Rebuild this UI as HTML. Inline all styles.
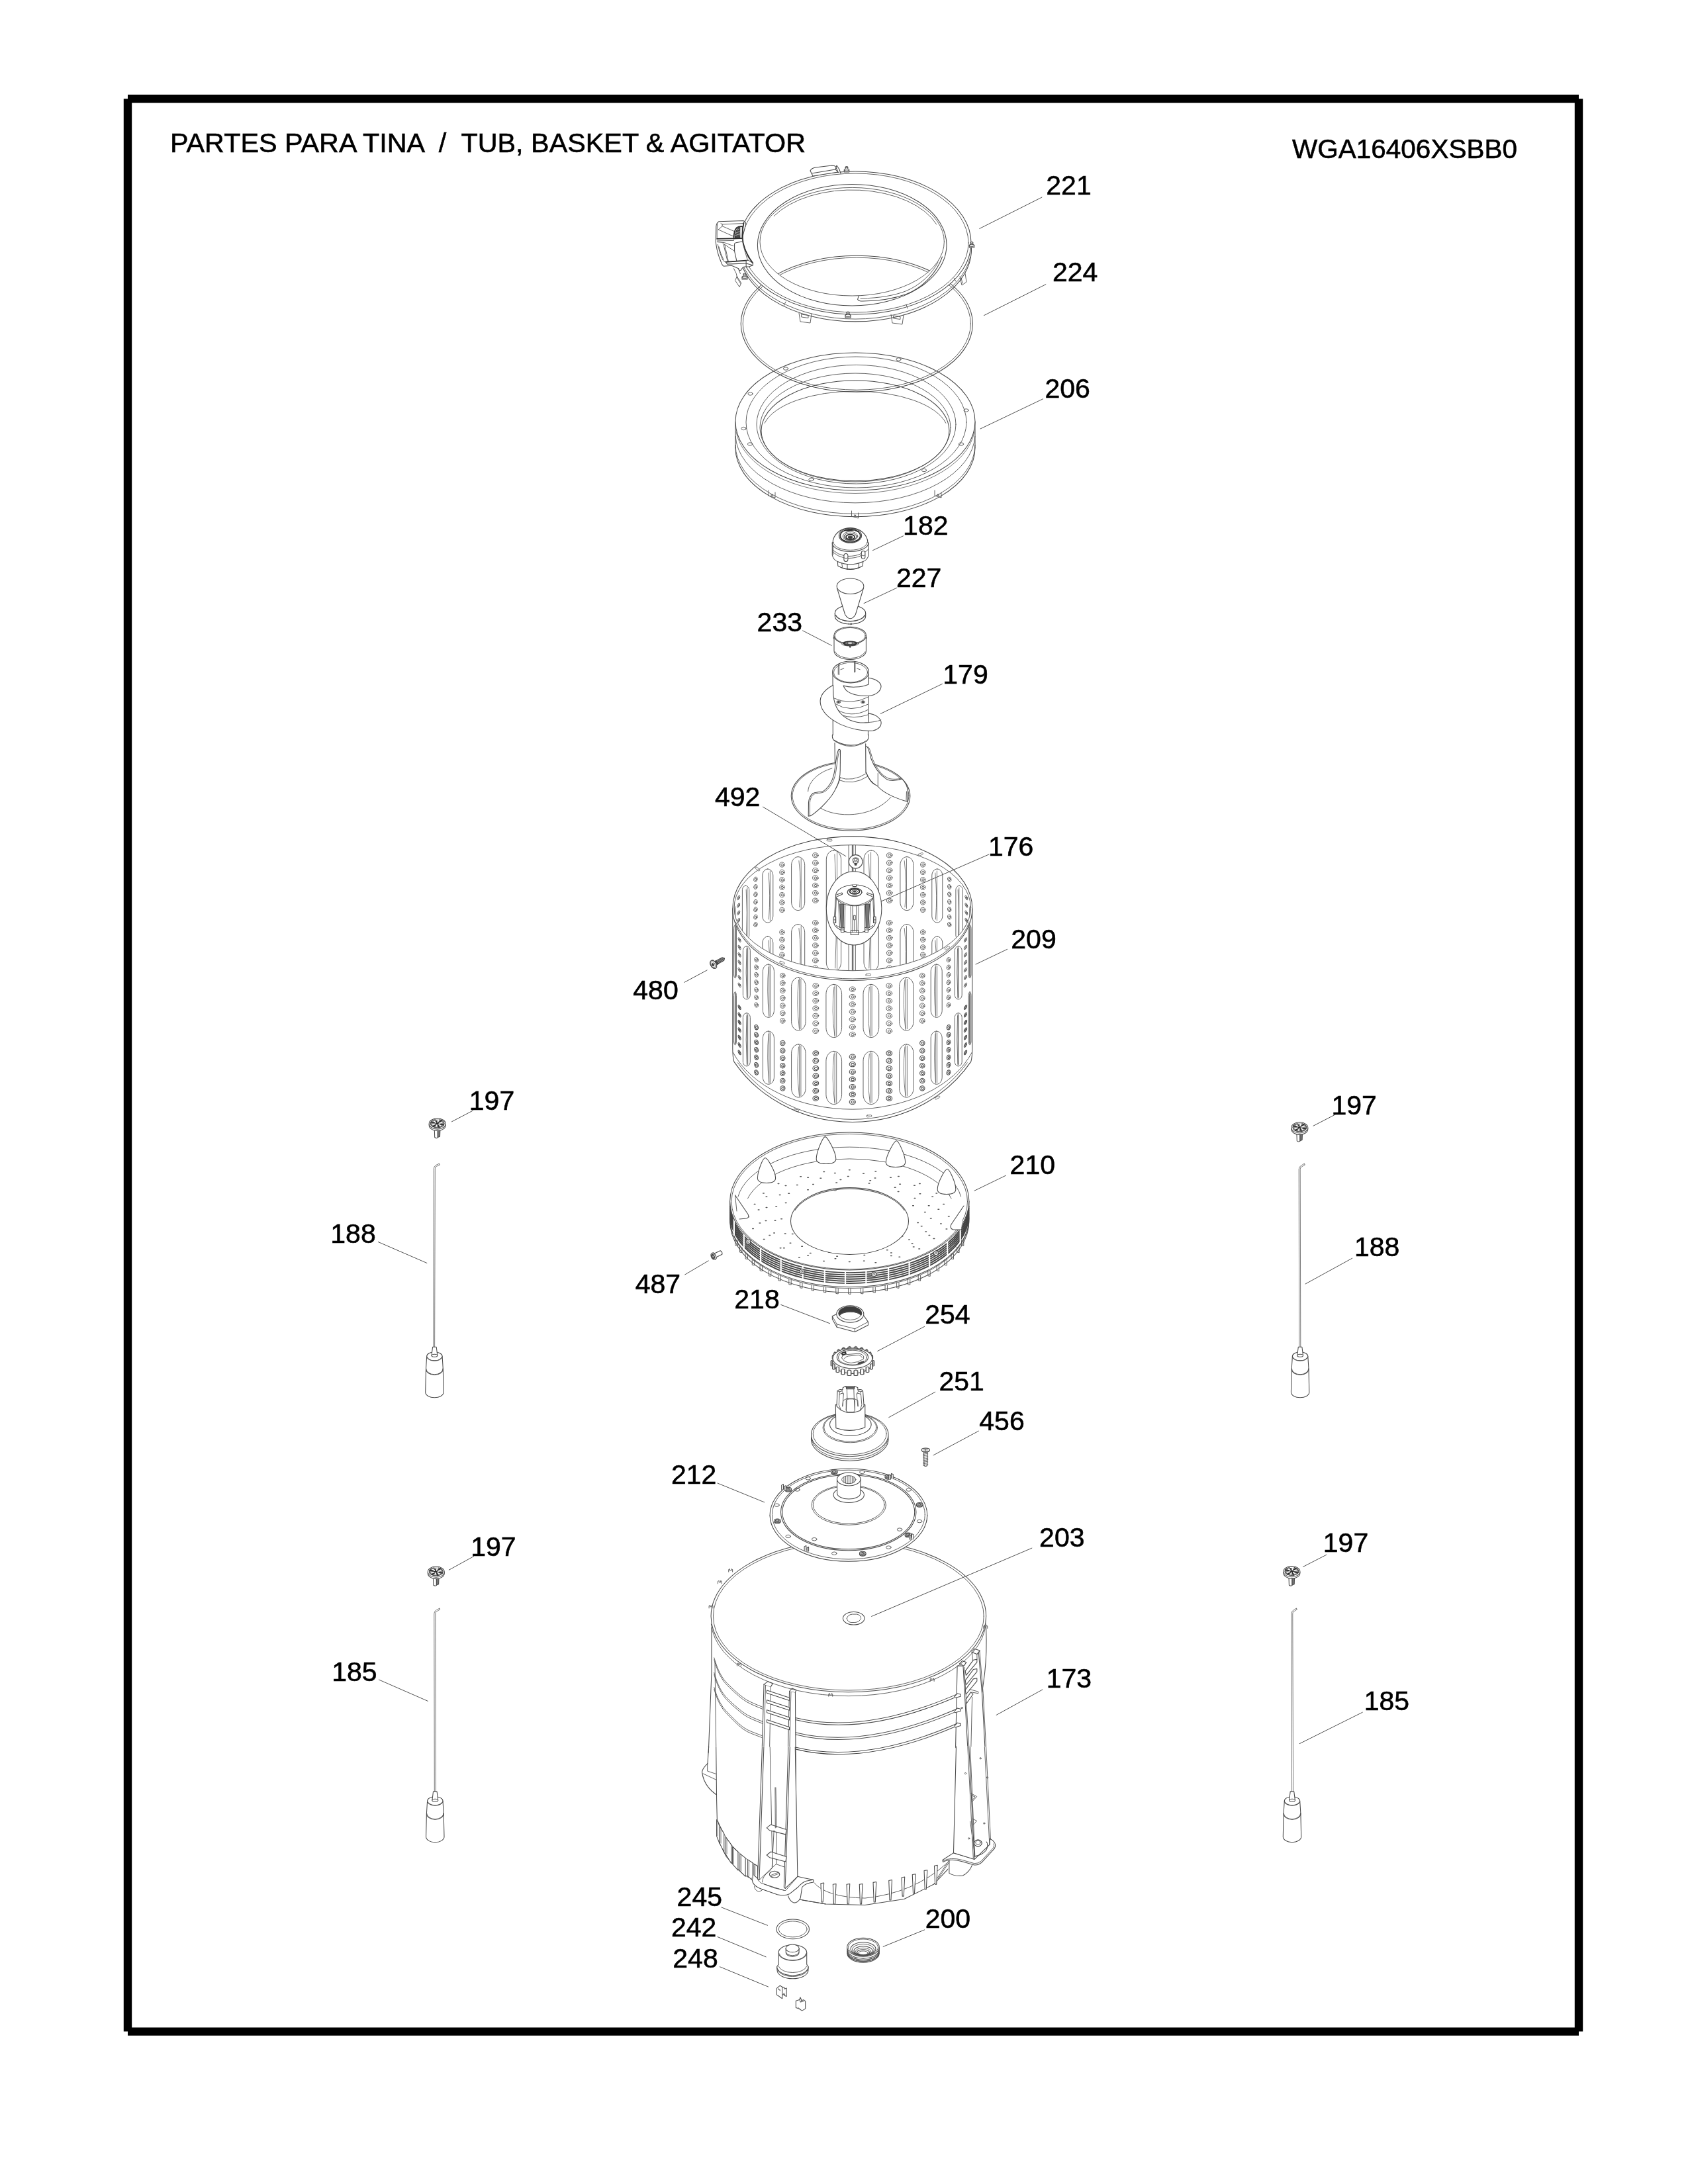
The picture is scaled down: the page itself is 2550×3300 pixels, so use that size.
<!DOCTYPE html>
<html><head><meta charset="utf-8"><title>Tub, Basket &amp; Agitator</title>
<style>
html,body{margin:0;padding:0;background:#fff;}
body{width:2550px;height:3300px;overflow:hidden;position:relative;font-family:"Liberation Sans",sans-serif;}
svg{position:absolute;left:0;top:0;will-change:transform;}
.t{font-family:"Liberation Sans",sans-serif;font-size:41px;fill:#000;stroke:#000;stroke-width:0.6px;}
.p,.p *{fill:none;stroke:#484848;stroke-width:1.05;stroke-linecap:round;stroke-linejoin:round;vector-effect:non-scaling-stroke;}
.p .w{fill:#fff;}
.p .wf{fill:#fff;stroke:none;}
.p .k{fill:#3c3c3c;}
.p .k2{fill:#777;}
.p .k4{fill:#8c8c8c;}
.p .wl2{stroke:#fff;stroke-width:1.5;}
.p .k3{fill:#4a4a4a;stroke:#333;}
.p .wl{stroke:#ddd;stroke-width:0.7;}
.p .gr{stroke-width:1.9;stroke:#444;}
.p .dv{stroke:#fff;stroke-width:2.2;}
.p .dt{stroke-width:1.5;stroke:#555;}
.p .n{stroke-width:0.9;stroke:#505050;}
.p .d{stroke-width:1.7;stroke:#2a2a2a;}
.p .h{stroke-width:0.8;stroke:#5a5a5a;}
.l line{stroke:#505050;stroke-width:1;}
</style></head><body>
<svg width="2550" height="3300" viewBox="0 0 2550 3300">
<!-- FRAME -->
<g stroke="#000" stroke-width="12.4" fill="none">
<line x1="193" y1="149.2" x2="2385" y2="149.2"/>
<line x1="193" y1="3069.6" x2="2385" y2="3069.6"/>
<line x1="193" y1="149.2" x2="193" y2="3069.6"/>
<line x1="2385" y1="149.2" x2="2385" y2="3069.6"/>
</g>
<!-- TITLES -->
<text class="t" x="257" y="229.5" xml:space="preserve" textLength="960" lengthAdjust="spacingAndGlyphs">PARTES PARA TINA  /  TUB, BASKET &amp; AGITATOR</text>
<text class="t" x="1952" y="239.3" textLength="340" lengthAdjust="spacingAndGlyphs">WGA16406XSBB0</text>
<!-- PARTS -->
<g class="p">
<!-- rods -->
<path d="M663.3 1758.3 L658.8 1760.4 Q655.3 1762.3 655.3 1765.9 L654.6 2037.5" class="h"/>
<path d="M664.1 1760.1 L659.8 1762.2 Q657.3 1762.3 657.3 1765.9 L656.6 2037.5" class="h"/>
<path d="M663.2 1758.3 q1.3 -0.3 0.9 1.9" class="h"/>
<path d="M644.7 2049.3 L643.5 2068.4 L642.7 2103.7 A13.7 8.1 0 0 0 670.1 2103.7 L669.3 2068.4 L668.1 2049.3" class="w"/>
<ellipse cx="656.4" cy="2049.3" rx="11.7" ry="6.5" class="w"/>
<path d="M667.2 2051.6 A11.2 6.2 0 0 1 645.6 2051.6" class="n"/>
<path d="M653.6 2035.2 L652 2048.3 L660.8 2048.3 L659.2 2035.2 Z" class="w"/>
<ellipse cx="656.4" cy="2048.3" rx="4.4" ry="2" class="w"/>
<path d="M669.3 2068.4 A12.9 9 0 0 1 643.5 2068.4"/>
<path d="M669.2 2067.8 A12.8 9 0 0 1 643.6 2067.8" class="n"/>
<path d="M1970.2 1758.3 L1965.7 1761.1 Q1962.2 1763 1962.2 1766.6 L1962.8 2038.5" class="h"/>
<path d="M1971 1760.1 L1966.7 1762.9 Q1964.2 1763 1964.2 1766.6 L1964.8 2038.5" class="h"/>
<path d="M1970.1 1758.3 q1.3 -0.3 0.9 1.9" class="h"/>
<path d="M1952.4 2049.3 L1951.2 2068.4 L1950.4 2103.7 A13.7 8.1 0 0 0 1977.8 2103.7 L1977 2068.4 L1975.8 2049.3" class="w"/>
<ellipse cx="1964.1" cy="2049.3" rx="11.7" ry="6.5" class="w"/>
<path d="M1974.9 2051.6 A11.2 6.2 0 0 1 1953.3 2051.6" class="n"/>
<path d="M1961.3 2035.2 L1959.7 2048.3 L1968.5 2048.3 L1966.9 2035.2 Z" class="w"/>
<ellipse cx="1964.1" cy="2048.3" rx="4.4" ry="2" class="w"/>
<path d="M1977 2068.4 A12.9 9 0 0 1 1951.2 2068.4"/>
<path d="M1976.9 2067.8 A12.8 9 0 0 1 1951.3 2067.8" class="n"/>
<path d="M663.8 2430.2 L659.3 2432.7 Q655.8 2434.6 655.8 2438.2 L656.3 2709.8" class="h"/>
<path d="M664.6 2432 L660.3 2434.5 Q657.8 2434.6 657.8 2438.2 L658.3 2709.8" class="h"/>
<path d="M663.7 2430.2 q1.3 -0.3 0.9 1.9" class="h"/>
<path d="M645.6 2721.2 L644.4 2740.3 L643.6 2775.6 A13.7 8.1 0 0 0 671 2775.6 L670.2 2740.3 L669 2721.2" class="w"/>
<ellipse cx="657.3" cy="2721.2" rx="11.7" ry="6.5" class="w"/>
<path d="M668.1 2723.5 A11.2 6.2 0 0 1 646.5 2723.5" class="n"/>
<path d="M654.5 2707.1 L652.9 2720.2 L661.7 2720.2 L660.1 2707.1 Z" class="w"/>
<ellipse cx="657.3" cy="2720.2" rx="4.4" ry="2" class="w"/>
<path d="M670.2 2740.3 A12.9 9 0 0 1 644.4 2740.3"/>
<path d="M670.1 2739.7 A12.8 9 0 0 1 644.5 2739.7" class="n"/>
<path d="M1958.3 2430.2 L1954.3 2432.7 Q1950.8 2434.6 1950.8 2438.2 L1951.6 2709.8" class="h"/>
<path d="M1959.1 2432 L1955.3 2434.5 Q1952.8 2434.6 1952.8 2438.2 L1953.6 2709.8" class="h"/>
<path d="M1958.2 2430.2 q1.3 -0.3 0.9 1.9" class="h"/>
<path d="M1940.3 2721.2 L1939.1 2740.3 L1938.3 2775.6 A13.7 8.1 0 0 0 1965.7 2775.6 L1964.9 2740.3 L1963.7 2721.2" class="w"/>
<ellipse cx="1952" cy="2721.2" rx="11.7" ry="6.5" class="w"/>
<path d="M1962.8 2723.5 A11.2 6.2 0 0 1 1941.2 2723.5" class="n"/>
<path d="M1949.2 2707.1 L1947.6 2720.2 L1956.4 2720.2 L1954.8 2707.1 Z" class="w"/>
<ellipse cx="1952" cy="2720.2" rx="4.4" ry="2" class="w"/>
<path d="M1964.9 2740.3 A12.9 9 0 0 1 1939.1 2740.3"/>
<path d="M1964.8 2739.7 A12.8 9 0 0 1 1939.2 2739.7" class="n"/>
<path d="M656.3 1706.1 L656.7 1718.5 Q659.1 1720.7 661.3 1718.9 L661.3 1707.6 Z" class="w"/>
<path d="M661.3 1707.6 L661.3 1718.5 L664.5 1717.3 L664.9 1706.1 Z" class="k2"/>
<path d="M648.2 1698.6 L648.2 1700.2 A12.5 8.3 0 0 0 673.2 1700.2 L673.2 1698.6" class="w"/>
<ellipse cx="660.7" cy="1698" rx="12.5" ry="8.1" class="w"/>
<ellipse cx="660.7" cy="1697.6" rx="10.4" ry="6.3" class="k4"/>
<path d="M670.1 1699.7 L651.3 1695.5 M663.3 1703.4 L658.1 1691.8 M654.3 1702.2 L667.1 1693" class="d"/>
<path d="M665.8 1701 L663 1699.1 M659.1 1702.1 L660 1699.6 M653.7 1699.3 L657.5 1698.3 M655.6 1694.2 L658.4 1696.1 M662.3 1693.1 L661.4 1695.6 M667.7 1695.9 L663.9 1696.9" class="wl2"/>
<path d="M658.2 1692 l5 0" class="wl2"/>
<path d="M1958.9 1712 L1959.3 1723.8 Q1961.7 1726 1963.9 1724.2 L1963.9 1713.5 Z" class="w"/>
<path d="M1963.9 1713.5 L1963.9 1723.8 L1967.1 1722.6 L1967.5 1712 Z" class="k2"/>
<path d="M1950.8 1704.5 L1950.8 1706.1 A12.5 8.3 0 0 0 1975.8 1706.1 L1975.8 1704.5" class="w"/>
<ellipse cx="1963.3" cy="1703.9" rx="12.5" ry="8.1" class="w"/>
<ellipse cx="1963.3" cy="1703.5" rx="10.4" ry="6.3" class="k4"/>
<path d="M1972.7 1705.6 L1953.9 1701.4 M1965.9 1709.3 L1960.7 1697.7 M1956.9 1708.1 L1969.7 1698.9" class="d"/>
<path d="M1968.4 1706.9 L1965.6 1705 M1961.7 1708 L1962.6 1705.5 M1956.3 1705.2 L1960.1 1704.2 M1958.2 1700.1 L1961 1702 M1964.9 1699 L1964 1701.5 M1970.3 1701.8 L1966.5 1702.8" class="wl2"/>
<path d="M1960.8 1697.9 l5 0" class="wl2"/>
<path d="M654.4 2383.2 L654.8 2395 Q657.2 2397.2 659.4 2395.4 L659.4 2384.7 Z" class="w"/>
<path d="M659.4 2384.7 L659.4 2395 L662.6 2393.8 L663 2383.2 Z" class="k2"/>
<path d="M646.3 2375.7 L646.3 2377.3 A12.5 8.3 0 0 0 671.3 2377.3 L671.3 2375.7" class="w"/>
<ellipse cx="658.8" cy="2375.1" rx="12.5" ry="8.1" class="w"/>
<ellipse cx="658.8" cy="2374.7" rx="10.4" ry="6.3" class="k4"/>
<path d="M668.2 2376.8 L649.4 2372.6 M661.4 2380.5 L656.2 2368.9 M652.4 2379.3 L665.2 2370.1" class="d"/>
<path d="M663.9 2378.1 L661.1 2376.2 M657.2 2379.2 L658.1 2376.7 M651.8 2376.4 L655.6 2375.4 M653.7 2371.3 L656.5 2373.2 M660.4 2370.2 L659.5 2372.7 M665.8 2373 L662 2374" class="wl2"/>
<path d="M656.3 2369.1 l5 0" class="wl2"/>
<path d="M1947 2382.7 L1947.4 2395 Q1949.8 2397.2 1952 2395.4 L1952 2384.2 Z" class="w"/>
<path d="M1952 2384.2 L1952 2395 L1955.2 2393.8 L1955.6 2382.7 Z" class="k2"/>
<path d="M1938.9 2375.2 L1938.9 2376.8 A12.5 8.3 0 0 0 1963.9 2376.8 L1963.9 2375.2" class="w"/>
<ellipse cx="1951.4" cy="2374.6" rx="12.5" ry="8.1" class="w"/>
<ellipse cx="1951.4" cy="2374.2" rx="10.4" ry="6.3" class="k4"/>
<path d="M1960.8 2376.3 L1942 2372.1 M1954 2380 L1948.8 2368.4 M1945 2378.8 L1957.8 2369.6" class="d"/>
<path d="M1956.5 2377.6 L1953.7 2375.7 M1949.8 2378.7 L1950.7 2376.2 M1944.4 2375.9 L1948.2 2374.9 M1946.3 2370.8 L1949.1 2372.7 M1953 2369.7 L1952.1 2372.2 M1958.4 2372.5 L1954.6 2373.5" class="wl2"/>
<path d="M1948.9 2368.6 l5 0" class="wl2"/>
<!-- 206 -->
<path d="M1473 676.8 A181 104 0 0 1 1111 676.8"/>
<path d="M1473 672.4 A181 104 0 0 1 1111 672.4" class="n"/>
<path d="M1472.9 659.3 A181 104 0 0 1 1111.1 659.3" class="n"/>
<path d="M1472 652.4 A181 104 0 0 1 1112 652.4" class="h"/>
<path d="M1111 637 L1111 676.8"/>
<path d="M1473 637 L1473 676.8"/>
<path d="M1111 637 A181 104 0 1 0 1473 637 A181 104 0 1 0 1111 637 Z M1150 650.8 A142 75.8 0 1 0 1434 650.8 A142 75.8 0 1 0 1150 650.8 Z" fill-rule="evenodd" class="wf"/>
<ellipse cx="1292" cy="637" rx="181" ry="104"/>
<ellipse cx="1293.5" cy="638" rx="166.5" ry="99" class="n"/>
<ellipse cx="1293.5" cy="641.2" rx="150.5" ry="89.8" class="n"/>
<ellipse cx="1292" cy="646" rx="144" ry="82" class="n"/>
<ellipse cx="1292" cy="650.8" rx="142" ry="75.8"/>
<path d="M1155.1 639.3 A140 61 0 0 1 1428.9 639.3" class="n"/>
<ellipse cx="1187" cy="557" rx="3.6" ry="2.2" class="n"/>
<ellipse cx="1357.5" cy="543" rx="3.6" ry="2.2" class="n"/>
<ellipse cx="1133.5" cy="595" rx="3.6" ry="2.2" class="n"/>
<ellipse cx="1123.5" cy="647.5" rx="3.6" ry="2.2" class="n"/>
<ellipse cx="1133" cy="671" rx="3.6" ry="2.2" class="n"/>
<ellipse cx="1459.5" cy="620" rx="3.6" ry="2.2" class="n"/>
<ellipse cx="1452" cy="671" rx="3.6" ry="2.2" class="n"/>
<ellipse cx="1396" cy="710.5" rx="3.6" ry="2.2" class="n"/>
<ellipse cx="1225.5" cy="724.5" rx="3.6" ry="2.2" class="n"/>
<path d="M1161 741 l0 8 l10 3 l0 -8 M1166 745" class="n"/>
<circle cx="1166" cy="748" r="1.2" class="n"/>
<path d="M1412 741 l0 8 l10 3 l0 -8 M1417 745" class="n"/>
<circle cx="1417" cy="748" r="1.2" class="n"/>
<path d="M1286.5 772 l0 8 l10 3 l0 -8 M1291.5 776" class="n"/>
<circle cx="1291.5" cy="779" r="1.2" class="n"/>
<!-- 224 -->
<ellipse cx="1294.3" cy="489.2" rx="175.1" ry="103"/>
<ellipse cx="1294.3" cy="489.2" rx="172.1" ry="100" class="n"/>
<!-- 221 -->
<path d="M1467.4 373.2 A175.5 109 0 1 1 1116.6 373.2"/>
<path d="M1465.8 388.2 A175.5 109 0 0 1 1118.2 388.2" class="n"/>
<path d="M1117 367 A175 108 0 1 0 1467 367 A175 108 0 1 0 1117 367 Z M1148 365.2 A139.2 81.8 0 1 0 1426.5 365.2 A139.2 81.8 0 1 0 1148 365.2 Z" fill-rule="evenodd" class="wf"/>
<ellipse cx="1292" cy="367" rx="175" ry="108"/>
<ellipse cx="1292" cy="367" rx="171" ry="105" class="n"/>
<ellipse cx="1287.2" cy="370.2" rx="142.8" ry="91.8"/>
<ellipse cx="1287.2" cy="365.2" rx="139.2" ry="81.8" class="n"/>
<path d="M1169.2 326.5 A136 79 0 0 1 1414.8 339" class="n"/>
<path d="M1297 447.3 L1295.6 452.6 Q1297 455 1300.5 454.9 C1330 455.2 1352 450.8 1369 444.6 C1395 434 1415 412 1423.5 388"/>
<path d="M1300 451 C1330 450.5 1352 446 1368 440 C1390 431 1408 414 1417 396" class="n"/>
<path d="M1184 462 L1187 456" class="n"/>
<path d="M1371 466 L1369 460" class="n"/>
<path d="M1441 420 L1444 425" class="n"/>
<path d="M1226 262 L1224 258 Q1226 254 1232 253 L1257 250 Q1262 250 1263 253 L1266 260 M1228 266 L1226 262 L1262 256 L1266 260 M1228 266 L1266 260 M1262 256 L1264 250 L1268 256 L1270 262" class="w"/>
<rect x="1277.1" y="252.4" width="3.7" height="5" rx="0.9" class="w"/>
<ellipse cx="1279" cy="252.4" rx="1.9" ry="1" class="w"/>
<path d="M1275.3 256.8 L1275.3 259.9 L1282.7 259.9 L1282.7 256.8 Z" class="w"/>
<ellipse cx="1279" cy="256.8" rx="3.7" ry="1.5" class="w"/>
<rect x="1466.1" y="366.4" width="3.7" height="5" rx="0.9" class="w"/>
<ellipse cx="1468" cy="366.4" rx="1.9" ry="1" class="w"/>
<path d="M1464.3 370.8 L1464.3 373.9 L1471.7 373.9 L1471.7 370.8 Z" class="w"/>
<ellipse cx="1468" cy="370.8" rx="3.7" ry="1.5" class="w"/>
<rect x="1123" y="414.1" width="4" height="5.3" rx="1" class="w"/>
<ellipse cx="1125" cy="414.1" rx="2" ry="1.1" class="w"/>
<path d="M1121 418.7 L1121 422 L1129 422 L1129 418.7 Z" class="w"/>
<ellipse cx="1125" cy="418.7" rx="4" ry="1.6" class="w"/>
<rect x="1279" y="472.1" width="4" height="5.3" rx="1" class="w"/>
<ellipse cx="1281" cy="472.1" rx="2" ry="1.1" class="w"/>
<path d="M1277 476.7 L1277 480 L1285 480 L1285 476.7 Z" class="w"/>
<ellipse cx="1281" cy="476.7" rx="4" ry="1.6" class="w"/>
<path d="M1207 473 l2 13 l15 2 l2 -14 M1211 475 l10 1.5 l0 4 l-10 -1.5 z" class="n"/>
<path d="M1346 475 l2 13 l15 2 l2 -14 M1350 477 l10 1.5 l0 4 l-10 -1.5 z" class="n"/>
<path d="M1450 418 l3 13 l7 -5 l-2 -13 M1452 420 l2 8" class="n"/>
<g transform="translate(1070 320) scale(0.05495)">
<path d="M290 270 L960 245 Q1020 262 1035 330 L975 560 L940 700 Q940 820 990 980 L1100 1250 L1225 1410 L1225 1470 L1120 1510 L1040 1510 Q940 1500 905 1600 L850 1620 L830 1560 L640 1480 L420 1495 Q385 1470 370 1430 L300 1250 Q240 1080 215 900 L205 830 L215 400 Q230 300 290 270 Z" class="w"/>
<path d="M345 320 L385 345 L960 320 M385 345 L385 395 L275 490 M385 395 L720 540 M275 490 L700 680 M250 330 Q235 420 240 745" class="n"/>
<path d="M700 740 Q700 520 780 440 Q830 400 935 405 L930 730 Z" class="w"/>
<path d="M700 740 Q700 520 780 440 Q830 400 935 405" class="d"/>
<path d="M735 730 Q735 560 800 470 Q830 440 870 430 L870 730 Z" class="k3"/>
<path d="M745 590 L860 540 M745 650 L865 610 M790 500 L850 470 M900 430 L870 640 M925 460 L900 700" class="wl"/>
<path d="M240 745 L930 730" class="d"/>
<path d="M245 830 L450 850 L690 940 M245 800 L700 790" class="n"/>
<path d="M975 300 Q930 520 940 700 Q945 850 1000 1000 Q1080 1220 1225 1410" class="d"/>
<path d="M930 740 Q950 900 1000 1060 L1080 1330" class="n"/>
<path d="M930 820 L760 850 Q720 855 720 890 L720 1080 L780 1355"/>
<path d="M400 880 L450 900 L550 1355 M420 905 L528 1360 M450 900 L715 1080 M260 900 Q300 1120 400 1330 Q430 1370 470 1380 M290 960 Q330 1150 420 1320" class="n"/>
<path d="M480 1380 L1040 1340" class="d"/>
<path d="M520 1440 L1030 1420 M480 1380 L520 1440 M1040 1340 L1040 1510 M1040 1340 L1100 1330 L1225 1410 M1040 1420 L1225 1470"/>
<path d="M700 1560 L770 1700 L790 1800 M830 1560 L880 1700 M740 1880 L790 1780 L905 1960 L860 2060 Z M790 1780 L800 1830 L890 1975" class="n"/>
</g>
<!-- small -->
<g transform="translate(1150 2890) scale(0.11848)">
<ellipse cx="403" cy="210" rx="208.5" ry="125"/>
<ellipse cx="403" cy="210" rx="180" ry="101" class="n"/>
<path d="M200 690 L204 745 A198 108 0 0 0 598 745 L600 690 Z" class="w"/>
<path d="M599 705 A199 109 0 0 1 201 705" class="n"/>
<path d="M222 510 L222 660 Q210 672 200 690 A200 110 0 0 0 600 690 Q590 672 580 660 L580 510 Z" class="w"/>
<path d="M580.2 681.4 A182 96 0 0 1 219.8 681.4" class="n"/>
<ellipse cx="400" cy="510" rx="180" ry="100" class="w"/>
<path d="M571.3 523.1 A172 93 0 0 1 228.7 523.1" class="n"/>
<path d="M313 455 L315 512 A83 46 0 0 0 481 512 L483 455 Z" class="w"/>
<path d="M480.7 504 A83 46 0 0 1 315.3 504" class="n"/>
<ellipse cx="398" cy="455" rx="85" ry="50" class="w"/>
<path d="M197 965 L240 930 L268 948 L268 1095 L240 1078 L225 1065 L197 1048 Z M268 948 L296 958 L296 972 L322 962 L322 1068 L296 1058 L296 1040 L268 1050" class="w"/>
<path d="M215 968 L240 985 M218 978 L243 995 M275 1040 L296 1030" class="n"/>
<path d="M442 1125 L488 1110 L498 1080 L515 1120 L540 1112 L563 1130 L563 1225 L520 1250 L490 1230 L470 1222 L442 1212 Z" class="w"/>
<path d="M488 1110 L500 1140 L515 1120 M500 1140 L540 1130 M470 1210 L490 1228" class="n"/>
<path d="M1097 450 L1100 520 A203 112 0 0 0 1503 520 L1505 450 Z" class="w"/>
<path d="M1503.9 473.9 A204 113 0 0 1 1096.1 473.9"/>
<path d="M1503.9 491.9 A204 113 0 0 1 1096.1 491.9"/>
<path d="M1503.9 509.9 A204 113 0 0 1 1096.1 509.9"/>
<path d="M1503 522 A203 112 0 0 1 1097 522"/>
<ellipse cx="1300" cy="440" rx="205" ry="118" class="w"/>
<ellipse cx="1300" cy="443" rx="190" ry="106" class="n"/>
<ellipse cx="1300" cy="462" rx="160" ry="84"/>
<ellipse cx="1300" cy="472" rx="140" ry="72" class="n"/>
<ellipse cx="1300" cy="486" rx="118" ry="58"/>
<ellipse cx="1300" cy="496" rx="98" ry="46" class="n"/>
<ellipse cx="1300" cy="506" rx="80" ry="36"/>
<ellipse cx="1300" cy="514" rx="60" ry="25" class="n"/>
</g>
<g transform="translate(1083.2 1454.2) rotate(-29)">
<path d="M-3.5 -3.4 L1 -2.8 L10.5 -2.6 L13 0 L10.5 2.6 L1 2.8 L-3.5 3.4 Z" class="k3"/>
<path d="M1.5 -2.6 L2.4 2.6" class="wl"/>
<path d="M3.7 -2.6 L4.6 2.6" class="wl"/>
<path d="M5.9 -2.6 L6.8 2.6" class="wl"/>
<path d="M8.1 -2.6 L9 2.6" class="wl"/>
<path d="M10.3 -2.6 L11.2 2.6" class="wl"/>
<ellipse cx="-6.3" cy="0" rx="4.2" ry="6.6" class="w"/>
<ellipse cx="-7" cy="0" rx="2.9" ry="4.8" class="n"/>
<ellipse cx="-7.2" cy="0" rx="1.3" ry="2.2" class="k"/>
<path d="M-6.3 -6.6 L-3.6 -5.8 Q-2.2 0 -3.6 5.8 L-6.3 6.6" class="w"/>
<ellipse cx="-6.3" cy="0" rx="4.2" ry="6.6" class="w"/>
<ellipse cx="-7" cy="0" rx="2.9" ry="4.8" class="n"/>
<ellipse cx="-7.2" cy="0" rx="1.3" ry="2.2" class="k"/>
</g>
<g transform="translate(1081.4 1896.5) rotate(-26)">
<path d="M-2 -3.1 L9 -3.1 Q11.4 0 9 3.1 L-2 3.1 Z" class="w"/>
<path d="M-4 -5.4 L-1.4 -4.8 Q-0.2 0 -1.4 4.8 L-4 5.4" class="w"/>
<ellipse cx="-4" cy="0" rx="3.4" ry="5.4" class="w"/>
<ellipse cx="-4.7" cy="0" rx="2.1" ry="3.6" class="k"/>
<ellipse cx="-4.7" cy="0.2" rx="0.8" ry="1.4" class="wl"/>
</g>
<!-- tub -->
<g transform="translate(1040 2320) scale(0.29621)">
<path d="M115 412 L118 700 L100 1165 L68 1200.3 L75 1240.3 L100 1290.3 L138 1320.3 L150 1480.3 L190 1550.3 L300 1670.3 L330 1760.3 L345 1795.3 L400 1810.3 L520 1860.3 L700 1880.3 L900 1885.3 L1100 1855.3 L1250 1780.3 L1335 1720.3 L1380 1735.3 L1440 1705.3 L1490 1670.3 L1560 1600.3 L1565 1570.3 L1535 1558.3 L1520 700 L1518 412 Z" class="wf"/>
<path d="M118 470 L118 700 L100 1165 L68 1200.3 L75 1240.3 L100 1290.3 L138 1320.3 L150 1480.3"/>
<path d="M100 1165 L128 1210.3 L138 1320.3 M75 1240.3 L128 1210.3" class="n"/>
<path d="M150 1480.3 L190 1550.3 L300 1670.3 L330 1760.3"/>
<path d="M140 1420.3 L180 1490.3 L290 1610.3 L340 1690.3" class="n"/>
<path d="M165 1440.3 l0 80 l10 8 l0 -78" class="n"/>
<path d="M190 1475.3 l0 80 l10 8 l0 -78" class="n"/>
<path d="M215 1505.3 l0 80 l10 8 l0 -78" class="n"/>
<path d="M240 1535.3 l0 80 l10 8 l0 -78" class="n"/>
<path d="M268 1562.3 l0 80 l10 8 l0 -78" class="n"/>
<path d="M295 1590.3 l0 80 l10 8 l0 -78" class="n"/>
<path d="M320 1620.3 l0 80 l10 8 l0 -78" class="n"/>
<path d="M131 624 C150 690 170 725 193.5 750 S250 805 277.5 826 S340 860 379 876" class="n"/>
<path d="M131 634 C150 700 170 735 193.5 760 S250 815 277.5 836 S340 870 379 886" class="n"/>
<path d="M131 700 C150 766 170 801 193.5 826 S250 880 277.5 901 S340 934 379 950" class="n"/>
<path d="M131 710 C150 776 170 811 193.5 836 S250 890 277.5 911 S340 944 379 960" class="n"/>
<path d="M131 775 C150 841 170 872 193.5 897 S250 956 277.5 977 S340 1007 379 1023" class="n"/>
<path d="M131 785 C150 851 170 882 193.5 907 S250 966 277.5 987 S340 1017 379 1033" class="n"/>
<path d="M135 645 L141 1085 L144 1440" class="n"/>
<path d="M1518 470 Q1523 600 1511 702 L1498 800"/>
<path d="M545 940 Q900 1030 1385 815 L1385 803 Q900 1018 545 930 Z" class="w"/>
<path d="M545 930 L535 944 L545 946 M1385 803 L1362 828" class="n"/>
<path d="M545 1015 Q900 1105 1385 890 L1385 878 Q900 1093 545 1005 Z" class="w"/>
<path d="M545 1005 L535 1019 L545 1021 M1385 878 L1362 903" class="n"/>
<path d="M545 1090 Q900 1180 1385 965 L1385 953 Q900 1168 545 1080 Z" class="w"/>
<path d="M545 1080 L535 1094 L545 1096 M1385 953 L1362 978" class="n"/>
<path d="M640 1770.3 Q700 1845.3 900 1850.3 Q1150 1825.3 1320 1670.3" class="n"/>
<path d="M520 1850.3 L700 1880.3 L900 1885.3 L1100 1855.3 L1250 1780.3 L1335 1690.3"/>
<path d="M675 1775.3 L691 1772.3 L686 1870.3 L679 1870.3 Z" class="w"/>
<path d="M737 1780.3 L753 1777.3 L748 1880.3 L741 1880.3 Z" class="w"/>
<path d="M807 1780.3 L823 1777.3 L818 1880.3 L811 1880.3 Z" class="w"/>
<path d="M872 1780.3 L888 1777.3 L883 1880.3 L876 1880.3 Z" class="w"/>
<path d="M942 1770.3 L958 1767.3 L953 1870.3 L946 1870.3 Z" class="w"/>
<path d="M1022 1760.3 L1038 1757.3 L1033 1860.3 L1026 1860.3 Z" class="w"/>
<path d="M1087 1745.3 L1103 1742.3 L1098 1840.3 L1091 1840.3 Z" class="w"/>
<path d="M1142 1730.3 L1158 1727.3 L1153 1825.3 L1146 1825.3 Z" class="w"/>
<path d="M1202 1710.3 L1218 1707.3 L1213 1805.3 L1206 1805.3 Z" class="w"/>
<path d="M1254 1685.3 L1270 1682.3 L1265 1780.3 L1258 1780.3 Z" class="w"/>
<path d="M330 1760.3 L345 1795.3 L400 1810.3 L500 1820.3 L570 1780.3 L640 1760.3"/>
<path d="M340 1780.3 L345 1805.3 L395 1815.3 M510 1825.3 L520 1860.3 L570 1850.3 L575 1780.3" class="n"/>
<ellipse cx="445" cy="1735.3" rx="35" ry="22" class="n"/>
<ellipse cx="445" cy="1732.3" rx="24" ry="14" class="n"/>
<path d="M330 1760.3 Q360 1720.3 400 1690.3 L490 1780.3" class="n"/>
<path d="M1300 1660.3 L1350 1625.3 L1440 1655.3 L1500 1640.3 L1560 1580.3 L1565 1568.3 L1545 1555.3"/>
<path d="M1330 1670.3 L1335 1720.3 L1380 1735.3 L1440 1705.3 L1445 1680.3 M1490 1670.3 L1560 1600.3" class="n"/>
<ellipse cx="1478" cy="1575.3" rx="30" ry="20" class="n"/>
<ellipse cx="1478" cy="1572.3" rx="19" ry="12" class="n"/>
<path d="M385 760 L370 1283 L355 1720.3 L400 1690.3" class="w"/>
<path d="M385 760 L420 772 L410 1283 L385 1680.3 M393.4 763 L379 1283" class="n"/>
<path d="M515 795 L508 1083 L490 1780.3 L555 1740.3 L548 1283 L545 800 Z" class="w"/>
<path d="M523 797 L516 1083" class="n"/>
<path d="M555 1740.3 L640 1760.3" class="n"/>
<path d="M440 1280.3 L440 1680.3 M446 1290.3 L446 1680.3" class="n"/>
<path d="M400 1480.3 L497 1515.3 L497 1525.3 L400 1490.3 Z" class="n"/>
<path d="M400 1600.3 L497 1635.3 L497 1645.3 L400 1610.3 Z" class="n"/>
<path d="M400 790 L515 828 L515 842 L400 804 Z" class="w"/>
<path d="M400 840 L515 878 L515 892 L400 854 Z" class="w"/>
<path d="M400 890 L515 928 L515 942 L400 904 Z" class="w"/>
<path d="M400 940 L515 978 L515 992 L400 954 Z" class="w"/>
<path d="M385 760 L405 745 L430 755 L420 772 M515 795 L528 780 L550 788 L545 800" class="w"/>
<path d="M1371 665.5 L1362.5 1083 L1424 1083 L1401 665.5 Z" class="wf"/>
<path d="M1362.5 1083 L1371 665.5 L1401 665.5 L1424 1083"/>
<path d="M1406.5 673 L1431 1083 M1447 825 L1441 1083" class="n"/>
<path d="M1479 588 L1497.4 806.5 L1512.3 1083"/>
<path d="M1485 590 L1503 806 L1518 1083" class="n"/>
<path d="M1412 691.5 L1452.8 635.8 L1471.4 632.1 L1471.4 647 L1415.7 713.8 Z" class="w"/>
<path d="M1412 739.7 L1452.8 684 L1471.4 680.3 L1471.4 695.2 L1415.7 762 Z" class="w"/>
<path d="M1412 787.9 L1452.8 732.2 L1471.4 728.5 L1471.4 743.4 L1415.7 810.2 Z" class="w"/>
<path d="M1415 836.1 L1440 799.6 L1452 809.6 L1418 857.6 Z" class="w"/>
<path d="M1434 785 L1478 797 L1478 806 L1445 800" class="n"/>
<path d="M1382.4 654.4 L1397.2 639.5 L1417.6 647 L1404.6 665.5 Z" class="w"/>
<path d="M1443.6 595 L1458.4 578.3 L1486.2 587.6 L1471.4 606.2 Z" class="w"/>
<path d="M1447 598 L1450 640 M1471.4 606.2 L1472 632" class="n"/>
<circle cx="1394.2" cy="880" r="4" class="n"/>
<circle cx="1489.2" cy="1136.7" r="4" class="n"/>
<circle cx="1412.8" cy="1213.5" r="4" class="n"/>
<path d="M1356 823 L1371 806.5 L1388 810 L1388 821 L1360 829" class="w"/>
<path d="M1356 898 L1371 881.5 L1388 885 L1388 896 L1360 904" class="w"/>
<path d="M1356 973 L1371 956.5 L1388 960 L1388 971 L1360 979" class="w"/>
<path d="M1517 452.3 A701.5 387.5 0 0 1 116 452.3" class="n"/>
<ellipse cx="816.5" cy="412" rx="701.5" ry="387.5" class="w"/>
<ellipse cx="816.5" cy="412" rx="690" ry="378" class="n"/>
<ellipse cx="843" cy="423" rx="55" ry="33"/>
<path d="M808 423 Q812 405 835 402 L860 402 Q880 408 880 423 Q872 442 850 444 L828 444 Q810 440 808 423 Z" class="n"/>
<path d="M248 666 l0 -12 l6 -3 l0 8 l8 0 l0 -8 l6 3 l0 12" class="n"/>
<path d="M715 821 l0 -12 l6 -3 l0 8 l8 0 l0 -8 l6 3 l0 12" class="n"/>
<path d="M1233 744 l0 -12 l6 -3 l0 8 l8 0 l0 -8 l6 3 l0 12" class="n"/>
<path d="M150 246 l0 -12 l6 -3 l0 8 l8 0 l0 -8 l6 3 l0 12" class="n"/>
<path d="M105 371 l0 -12 l6 -3 l0 8 l8 0 l0 -8 l6 3 l0 12" class="n"/>
<path d="M1505 474 l0 -12 l6 -3 l0 8 l8 0 l0 -8 l6 3 l0 12" class="n"/>
<path d="M205 186 l0 -12 l6 -3 l0 8 l8 0 l0 -8 l6 3 l0 12" class="n"/>
</g>
<g transform="translate(1050 2640) scale(0.12441)">
<path d="M255 -5 L60 150 L60 420 L230 640 L230 1250 L640 1700 L700 1800 L1150 1930 L1300 1900 L1300 1700 L1450 1650 L1450 1590 L1250 1560 L1218 130 L1175 130 L1172 -5 Z" class="wf"/>
<path d="M255 0 L262 640 L268 880"/>
<path d="M166 -5 L152 205"/>
<path d="M150 200 Q90 260 85 300 Q90 350 110 400 Q150 500 255 575"/>
<path d="M150 200 L150 290 L255 325 M95 320 L255 395" class="n"/>
<path d="M268 880 Q320 1010 400 1140 Q500 1260 600 1340 Q690 1405 765 1445" class="n"/>
<path d="M262 1000 Q300 1190 380 1330 Q470 1440 560 1520 Q640 1585 700 1600"/>
<path d="M262 880 L300 960 L300 1175 L262 1080 Z" class="w"/>
<path d="M276 905 L276 1077" class="h"/>
<path d="M300 960 L352 1050 L352 1275 L300 1170 Z" class="w"/>
<path d="M314 985 L314 1167" class="h"/>
<path d="M372 1090 L440 1185 L440 1410 L372 1300 Z" class="w"/>
<path d="M386 1115 L386 1297" class="h"/>
<path d="M455 1210 L522 1270 L522 1495 L455 1420 Z" class="w"/>
<path d="M469 1235 L469 1417" class="h"/>
<path d="M545 1295 L612 1345 L612 1570 L545 1505 Z" class="w"/>
<path d="M559 1320 L559 1502" class="h"/>
<path d="M640 1365 L700 1405 L700 1620 L640 1565 Z" class="w"/>
<path d="M654 1390 L654 1562" class="h"/>
<path d="M715 1420 L760 1445 L760 1595 L715 1555 Z" class="w"/>
<path d="M729 1445 L729 1552" class="h"/>
<path d="M690 1590 L700 1640 Q720 1690 800 1720 L1000 1790 Q1090 1810 1150 1780 L1250 1700 Q1300 1640 1350 1625 L1435 1610 L1440 1640 Q1340 1650 1300 1700 L1280 1830 Q1250 1890 1200 1890 Q1150 1870 1130 1805" class="w"/>
<path d="M720 1690 Q725 1740 770 1752 Q810 1750 822 1728" class="n"/>
<path d="M760 1610 L800 1650 L1080 1740 L1100 1740 L1240 1580" class="n"/>
<path d="M1275 1850 L1586 1905"/>
<path d="M815 1640 Q820 1560 900 1510 L940 1460 M1075 1735 Q960 1720 830 1660" class="n"/>
<ellipse cx="965" cy="1545" rx="62" ry="40" class="w"/>
<path d="M915 1558 L1010 1520 M925 1572 L1018 1535" class="n"/>
<path d="M815 0 L760 1600 L780 1612 L835 0" class="w"/>
<path d="M780 1612 L940 1460 L910 0" class="n"/>
<path d="M1132 0 L1080 1700 L1095 1716 L1152 0" class="w"/>
<path d="M1095 1716 L1245 1570 L1216 0" class="w"/>
<path d="M1245 1570 Q1320 1590 1435 1610"/>
<path d="M870 980 L920 940 L1110 1000 L1100 1060 L905 1010 Z" class="w"/>
<path d="M870 1310 L920 1270 L1110 1330 L1100 1390 L905 1340 Z" class="w"/>
<path d="M972 490 L975 980 M980 490 L990 975 M958 1010 L935 1450 M990 1040 L985 1290 M990 1360 L985 1420 L940 1460 M985 1420 L1085 1455" class="n"/>
</g>
<g transform="translate(1330 2640) scale(0.12441)">
<path d="M915 -5 L880 1285 L735 1368 L740 1412 L822 1400 L822 1562 L1000 1592 L1125 1462 L1250 1425 L1412 1245 L1412 1150 L1345 1095 L1295 -5 Z" class="wf"/>
<path d="M835 1375 L835 1530 Q900 1570 1000 1560 Q1080 1520 1115 1430" class="w"/>
<path d="M830 1380 L690 1590 M838 1392 L700 1598" class="n"/>
<path d="M885 1285 L755 1370 L760 1395 Q850 1345 1000 1390 L1140 1430 Q1190 1435 1230 1400 L1385 1230 Q1400 1200 1395 1180 Q1385 1140 1330 1110 L1325 1185 L1145 1360 Z" class="w"/>
<path d="M765 1380 Q850 1330 1000 1372 L1140 1412 Q1185 1415 1222 1385 L1372 1222 Q1385 1195 1378 1172" class="n"/>
<path d="M1145 1325 Q1240 1310 1285 1250 Q1315 1190 1290 1150" class="n"/>
<ellipse cx="1185" cy="1165" rx="46" ry="40" class="n"/>
<ellipse cx="1185" cy="1158" rx="30" ry="24" class="n"/>
<path d="M920 -8 L888 1285 L1142 1362 L1075 -8 Z" class="wf"/>
<path d="M920 -8 L888 1285 L1142 1362 L1075 -8"/>
<path d="M1090 0 L1148 1330 M1325 1185 L1265 0 M1283 0 L1338 1120" class="n"/>
<path d="M1060 0 L1128 1350" class="n"/>
<path d="M1145 1325 Q1240 1310 1285 1250 Q1315 1190 1290 1150" class="n"/>
<ellipse cx="1185" cy="1165" rx="46" ry="40" class="w"/>
<ellipse cx="1185" cy="1158" rx="30" ry="24" class="n"/>
<path d="M1090 900 L1148 1330" class="n"/>
<path d="M1100 560 L1170 600 L1115 660 M1108 585 L1150 604 L1118 640 M1120 870 L1170 895 L1130 940" class="n"/>
<circle cx="1215" cy="135" r="9" class="n"/>
<circle cx="1033" cy="318" r="9" class="n"/>
<circle cx="1298" cy="368" r="9" class="n"/>
<circle cx="1260" cy="925" r="9" class="n"/>
<circle cx="1075" cy="1108" r="9" class="n"/>
</g>
<!-- 212 -->
<g transform="translate(1140 2190) scale(0.17180)">
<path d="M135 578 L137 600 A691 407 0 0 0 1516 600 L1518 578" class="w"/>
<ellipse cx="826" cy="578" rx="691.5" ry="407.5" class="w"/>
<ellipse cx="826" cy="574" rx="672" ry="392" class="n"/>
<ellipse cx="825" cy="552" rx="595" ry="337"/>
<ellipse cx="825" cy="552" rx="582" ry="326"/>
<ellipse cx="828" cy="490" rx="327" ry="175" class="n"/>
<ellipse cx="828" cy="488" rx="314" ry="165" class="n"/>
<ellipse cx="828" cy="400" rx="135" ry="68" class="w"/>
<path d="M724.5 262 L726 385 A102 52 0 0 0 930 385 L931.5 262 Z" class="w"/>
<ellipse cx="828" cy="262" rx="103.5" ry="58" class="w"/>
<ellipse cx="828" cy="266" rx="62" ry="35" class="n"/>
<path d="M785 245 L785 290 M800 238 L800 297 M815 234 L815 300 M830 233 L830 301 M845 234 L845 300 M860 238 L860 297 M873 245 L873 290" class="n"/>
<ellipse cx="470" cy="255" rx="22" ry="13" class="n"/>
<ellipse cx="945" cy="200" rx="22" ry="13" class="n"/>
<ellipse cx="375" cy="355" rx="22" ry="13" class="n"/>
<ellipse cx="1355" cy="355" rx="22" ry="13" class="n"/>
<ellipse cx="195" cy="490" rx="22" ry="13" class="n"/>
<ellipse cx="1450" cy="632" rx="22" ry="13" class="n"/>
<ellipse cx="1275" cy="705" rx="22" ry="13" class="n"/>
<ellipse cx="295" cy="765" rx="22" ry="13" class="n"/>
<ellipse cx="525" cy="790" rx="22" ry="13" class="n"/>
<ellipse cx="700" cy="915" rx="22" ry="13" class="n"/>
<ellipse cx="1178" cy="862" rx="22" ry="13" class="n"/>
<ellipse cx="700" cy="201" rx="28" ry="17" class="w"/>
<ellipse cx="700" cy="195" rx="28" ry="17" class="w"/>
<ellipse cx="700" cy="195" rx="17" ry="10"/>
<ellipse cx="700" cy="195" rx="9" ry="5" class="n"/>
<ellipse cx="295" cy="356" rx="28" ry="17" class="w"/>
<ellipse cx="295" cy="350" rx="28" ry="17" class="w"/>
<ellipse cx="295" cy="350" rx="17" ry="10"/>
<ellipse cx="295" cy="350" rx="9" ry="5" class="n"/>
<ellipse cx="1450" cy="491" rx="28" ry="17" class="w"/>
<ellipse cx="1450" cy="485" rx="28" ry="17" class="w"/>
<ellipse cx="1450" cy="485" rx="17" ry="10"/>
<ellipse cx="1450" cy="485" rx="9" ry="5" class="n"/>
<ellipse cx="200" cy="634" rx="28" ry="17" class="w"/>
<ellipse cx="200" cy="628" rx="28" ry="17" class="w"/>
<ellipse cx="200" cy="628" rx="17" ry="10"/>
<ellipse cx="200" cy="628" rx="9" ry="5" class="n"/>
<ellipse cx="950" cy="921" rx="28" ry="17" class="w"/>
<ellipse cx="950" cy="915" rx="28" ry="17" class="w"/>
<ellipse cx="950" cy="915" rx="17" ry="10"/>
<ellipse cx="950" cy="915" rx="9" ry="5" class="n"/>
<ellipse cx="1350" cy="756" rx="28" ry="17" class="w"/>
<ellipse cx="1350" cy="750" rx="28" ry="17" class="w"/>
<ellipse cx="1350" cy="750" rx="17" ry="10"/>
<ellipse cx="1350" cy="750" rx="9" ry="5" class="n"/>
<ellipse cx="1175" cy="246" rx="28" ry="17" class="w"/>
<ellipse cx="1175" cy="240" rx="28" ry="17" class="w"/>
<ellipse cx="1175" cy="240" rx="17" ry="10"/>
<ellipse cx="1175" cy="240" rx="9" ry="5" class="n"/>
<path d="M237 355 l0 -40 l16 -8 l0 40 M261 360 l0 -36 l14 -6 l0 38" class="w"/>
<path d="M1218 260 l0 -40 l-16 -8 l0 40 M1194 265 l0 -36 l-14 -6 l0 38" class="w"/>
<path d="M437 895 l0 -40 l16 -8 l0 40 M461 900 l0 -36 l14 -6 l0 38" class="w"/>
<path d="M1398 790 l0 -40 l-16 -8 l0 40 M1374 795 l0 -36 l-14 -6 l0 38" class="w"/>
</g>
<path d="M1395.6 2194 L1396 2214.5 Q1398.3 2216.5 1400.6 2214.5 L1401 2194 Z" class="w"/>
<path d="M1394.8 2197.4 L1401.8 2196" class="n"/>
<path d="M1394.8 2199.8 L1401.8 2198.4" class="n"/>
<path d="M1394.8 2202.2 L1401.8 2200.8" class="n"/>
<path d="M1394.8 2204.6 L1401.8 2203.2" class="n"/>
<path d="M1394.8 2207 L1401.8 2205.6" class="n"/>
<path d="M1394.8 2209.4 L1401.8 2208" class="n"/>
<path d="M1394.8 2211.8 L1401.8 2210.4" class="n"/>
<path d="M1394.8 2214.2 L1401.8 2212.8" class="n"/>
<path d="M1392.3 2191 Q1392.5 2194 1398.3 2194.6 Q1404.2 2194 1404.4 2191" class="w"/>
<ellipse cx="1398.3" cy="2190.8" rx="6.1" ry="2.7" class="w"/>
<path d="M1395.5 2190.8 L1401.2 2190.8 M1398.3 2189.6 L1398.3 2192" class="n"/>
<!-- 218/254/251 -->
<g transform="translate(1220 1960) scale(0.10989)">
<path d="M340 262 L340 302 L402 412 L650 478 L832 385 L832 340 L770 250 L470 195 Z" class="w"/>
<path d="M340 262 L402 372 L650 435 L832 340 M402 372 L402 412 M650 435 L650 478" class="n"/>
<ellipse cx="585" cy="232" rx="187" ry="116" class="w"/>
<ellipse cx="585" cy="222" rx="158" ry="92" class="n"/>
<path d="M427 222 A158 92 0 0 1 743 222 A158 80 0 0 1 735 250 A150 62 0 0 0 440 255 A158 80 0 0 1 427 222 Z" class="k"/>
<path d="M437.3 251.2 A150 62 0 0 1 732.7 251.2" class="n"/>
<path d="M339 848.1 l0 -38 q10.3 -16 20.7 0 l0 38" class="w"/>
<ellipse cx="349.3" cy="800.1" rx="5.8" ry="7" class="n"/>
<path d="M360.8 806.4 l0 -38 q14.8 -16 29.6 0 l0 38" class="w"/>
<ellipse cx="375.6" cy="758.4" rx="8.3" ry="7" class="n"/>
<path d="M407.1 771 l0 -38 q18.6 -16 37.2 0 l0 38" class="w"/>
<ellipse cx="425.7" cy="723" rx="10.4" ry="7" class="n"/>
<path d="M473.1 745.3 l0 -38 q21.4 -16 42.7 0 l0 38" class="w"/>
<ellipse cx="494.5" cy="697.3" rx="12" ry="7" class="n"/>
<path d="M552.6 731.7 l0 -38 q22.8 -16 45.6 0 l0 38" class="w"/>
<ellipse cx="575.4" cy="683.7" rx="12.8" ry="7" class="n"/>
<path d="M637.7 731.7 l0 -38 q22.8 -16 45.6 0 l0 38" class="w"/>
<ellipse cx="660.6" cy="683.7" rx="12.8" ry="7" class="n"/>
<path d="M720.1 745.3 l0 -38 q21.4 -16 42.7 0 l0 38" class="w"/>
<ellipse cx="741.5" cy="697.3" rx="12" ry="7" class="n"/>
<path d="M791.7 771 l0 -38 q18.6 -16 37.2 0 l0 38" class="w"/>
<ellipse cx="810.3" cy="723" rx="10.4" ry="7" class="n"/>
<path d="M845.5 806.4 l0 -38 q14.8 -16 29.6 0 l0 38" class="w"/>
<ellipse cx="860.4" cy="758.4" rx="8.3" ry="7" class="n"/>
<path d="M876.3 848.1 l0 -38 q10.3 -16 20.7 0 l0 38" class="w"/>
<ellipse cx="886.7" cy="800.1" rx="5.8" ry="7" class="n"/>
<path d="M346 840 L346 900 A272 150 0 0 0 890 900 L890 840 Z" class="w"/>
<ellipse cx="618" cy="840" rx="272" ry="140" class="w"/>
<path d="M892.6 940 l0 -62 q11.8 -18 23.6 0 l0 62 q-11.8 12 -23.6 0 Z" class="w"/>
<path d="M898.6 936 l0 -55 M910.2 936 l0 -55" class="h"/>
<path d="M859.2 987.6 l0 -62 q17.2 -18 34.3 0 l0 62 q-17.2 12 -34.3 0 Z" class="w"/>
<path d="M865.2 983.6 l0 -55 M887.6 983.6 l0 -55" class="h"/>
<path d="M801.3 1028.1 l0 -62 q21.7 -18 43.5 0 l0 62 q-21.7 12 -43.5 0 Z" class="w"/>
<path d="M807.3 1024.1 l0 -55 M838.8 1024.1 l0 -55" class="h"/>
<path d="M724.6 1057.6 l0 -62 q25 -18 50.1 0 l0 62 q-25 12 -50.1 0 Z" class="w"/>
<path d="M730.6 1053.6 l0 -55 M768.7 1053.6 l0 -55" class="h"/>
<path d="M636.6 1073 l0 -62 q26.8 -18 53.6 0 l0 62 q-26.8 12 -53.6 0 Z" class="w"/>
<path d="M642.6 1069 l0 -55 M684.1 1069 l0 -55" class="h"/>
<path d="M545.9 1073 l0 -62 q26.8 -18 53.6 0 l0 62 q-26.8 12 -53.6 0 Z" class="w"/>
<path d="M551.9 1069 l0 -55 M593.4 1069 l0 -55" class="h"/>
<path d="M461.3 1057.6 l0 -62 q25 -18 50.1 0 l0 62 q-25 12 -50.1 0 Z" class="w"/>
<path d="M467.3 1053.6 l0 -55 M505.4 1053.6 l0 -55" class="h"/>
<path d="M391.2 1028.1 l0 -62 q21.7 -18 43.5 0 l0 62 q-21.7 12 -43.5 0 Z" class="w"/>
<path d="M397.2 1024.1 l0 -55 M428.7 1024.1 l0 -55" class="h"/>
<path d="M342.4 987.6 l0 -62 q17.2 -18 34.3 0 l0 62 q-17.2 12 -34.3 0 Z" class="w"/>
<path d="M348.4 983.6 l0 -55 M370.8 983.6 l0 -55" class="h"/>
<path d="M319.8 940 l0 -62 q11.8 -18 23.6 0 l0 62 q-11.8 12 -23.6 0 Z" class="w"/>
<path d="M325.8 936 l0 -55 M337.4 936 l0 -55" class="h"/>
<ellipse cx="618" cy="825" rx="215" ry="112" class="w"/>
<ellipse cx="618" cy="830" rx="195" ry="100" class="n"/>
<path d="M470 835 Q470 800 520 790 L700 775 Q740 775 770 810 L770 850 Q690 900 600 905 Q500 900 470 835 Z" class="n"/>
<path d="M500 850 Q520 815 560 810 L700 795 Q735 800 750 830" class="n"/>
<path d="M690 905 L770 880 L775 895 L700 922 Z" class="k"/>
<path d="M470 770 L520 755 L528 778 L480 795 Z" class="d"/>
<path d="M48 1890 L52 1960 Q100 2150 580 2184 L1110 2184 L1112 1890 Z" class="wf"/>
<path d="M1108 1923.9 A530 300 0 1 1 52 1923.9"/>
<path d="M1109.3 1909.3 A530 300 0 1 1 50.7 1909.3" class="n"/>
<ellipse cx="580" cy="1890" rx="530" ry="300" class="w"/>
<ellipse cx="580" cy="1880" rx="505" ry="285" class="n"/>
<ellipse cx="585" cy="1795" rx="375" ry="205" class="n"/>
<ellipse cx="585" cy="1790" rx="360" ry="195" class="n"/>
<ellipse cx="590" cy="1750" rx="285" ry="155"/>
<path d="M385 1480 L390 1800 Q590 1870 790 1790 L790 1480 Z" class="w"/>
<path d="M400 1500 L410 1290 Q440 1260 480 1275 L485 1245 L520 1225 L650 1225 L690 1245 L690 1275 Q740 1260 760 1290 L775 1500 L720 1560 L640 1585 L540 1585 L460 1555 Z" class="w"/>
<path d="M520 1225 L540 1250 L635 1250 L650 1225 M540 1250 L545 1400 M635 1250 L640 1400" class="n"/>
<path d="M530 1240 L645 1240 L640 1262 L535 1262 Z" class="k2"/>
<path d="M410 1290 L440 1300 L470 1290 L480 1275 M440 1300 L430 1480 L460 1555 M470 1290 L495 1330 L480 1500 M760 1290 L730 1300 L700 1290 L690 1275 M730 1300 L745 1480 L720 1560 M700 1290 L675 1330 L690 1500" class="n"/>
<path d="M495 1330 Q460 1310 440 1340 M675 1330 Q710 1310 730 1340" class="n"/>
<path d="M480 1500 L490 1420 L540 1395 L640 1395 L690 1420 L695 1500 M540 1395 L530 1555 M640 1395 L650 1555" class="n"/>
<rect x="530" y="1400" width="120" height="180" rx="28" class="n"/>
</g>
<!-- 210 -->
<path d="M1102.7 1815 L1102.7 1845 A180.6 108 0 0 0 1463.9 1845 L1463.9 1815 Z" class="wf"/>
<path d="M1102.7 1815 L1102.7 1845 A180.6 108 0 0 0 1463.9 1845 L1463.9 1815"/>
<path d="M1452.4 1873.8 l0 8 l3.4 0.6 l0 -8" class="n"/>
<path d="M1445.7 1884.1 l0 8 l3.4 0.6 l0 -8" class="n"/>
<path d="M1437.1 1894 l0 8 l3.4 0.6 l0 -8" class="n"/>
<path d="M1426.9 1903.3 l0 8 l3.4 0.6 l0 -8" class="n"/>
<path d="M1415.1 1911.9 l0 8 l3.4 0.6 l0 -8" class="n"/>
<path d="M1401.8 1919.8 l0 8 l3.4 0.6 l0 -8" class="n"/>
<path d="M1387.2 1926.8 l0 8 l3.4 0.6 l0 -8" class="n"/>
<path d="M1371.4 1932.8 l0 8 l3.4 0.6 l0 -8" class="n"/>
<path d="M1354.6 1937.8 l0 8 l3.4 0.6 l0 -8" class="n"/>
<path d="M1337.1 1941.8 l0 8 l3.4 0.6 l0 -8" class="n"/>
<path d="M1318.9 1944.7 l0 8 l3.4 0.6 l0 -8" class="n"/>
<path d="M1300.4 1946.4 l0 8 l3.4 0.6 l0 -8" class="n"/>
<path d="M1281.6 1947 l0 8 l3.4 0.6 l0 -8" class="n"/>
<path d="M1262.8 1946.4 l0 8 l3.4 0.6 l0 -8" class="n"/>
<path d="M1244.3 1944.7 l0 8 l3.4 0.6 l0 -8" class="n"/>
<path d="M1226.1 1941.8 l0 8 l3.4 0.6 l0 -8" class="n"/>
<path d="M1208.6 1937.8 l0 8 l3.4 0.6 l0 -8" class="n"/>
<path d="M1191.8 1932.8 l0 8 l3.4 0.6 l0 -8" class="n"/>
<path d="M1176 1926.8 l0 8 l3.4 0.6 l0 -8" class="n"/>
<path d="M1161.4 1919.8 l0 8 l3.4 0.6 l0 -8" class="n"/>
<path d="M1148.1 1911.9 l0 8 l3.4 0.6 l0 -8" class="n"/>
<path d="M1136.3 1903.3 l0 8 l3.4 0.6 l0 -8" class="n"/>
<path d="M1126.1 1894 l0 8 l3.4 0.6 l0 -8" class="n"/>
<path d="M1117.5 1884.1 l0 8 l3.4 0.6 l0 -8" class="n"/>
<path d="M1110.8 1873.8 l0 8 l3.4 0.6 l0 -8" class="n"/>
<path d="M1463.8 1846.1 A180.6 104 0 0 1 1102.8 1846.1" class="n"/>
<path d="M1463.9 1840.8 A180.6 104 0 0 1 1102.7 1840.8"/>
<path d="M1463.5 1822.6 A180.3 104 0 0 1 1103.1 1822.6" class="gr"/>
<path d="M1463.5 1825.8 A180.3 104 0 0 1 1103.1 1825.8" class="gr"/>
<path d="M1463.5 1829 A180.3 104 0 0 1 1103.1 1829" class="gr"/>
<path d="M1463.5 1832.2 A180.3 104 0 0 1 1103.1 1832.2" class="gr"/>
<path d="M1463.5 1835.4 A180.3 104 0 0 1 1103.1 1835.4" class="gr"/>
<path d="M1463.5 1838.6 A180.3 104 0 0 1 1103.1 1838.6" class="gr"/>
<path d="M1450.7 1854 l0 24" class="dv"/>
<path d="M1431.2 1874.7 l0 24" class="dv"/>
<path d="M1404.1 1892.3 l0 24" class="dv"/>
<path d="M1373.6 1905.1 l0 24" class="dv"/>
<path d="M1342.1 1913.3 l0 24" class="dv"/>
<path d="M1308.4 1918 l0 24" class="dv"/>
<path d="M1277 1918.9 l0 24" class="dv"/>
<path d="M1245.8 1916.7 l0 24" class="dv"/>
<path d="M1212.7 1910.7 l0 24" class="dv"/>
<path d="M1179.7 1900.2 l0 24" class="dv"/>
<path d="M1149.1 1884.6 l0 24" class="dv"/>
<path d="M1123.8 1863.8 l0 24" class="dv"/>
<path d="M1108.9 1841.9 l0 24" class="dv"/>
<circle cx="1211.4" cy="1921" r="3.4" class="w"/>
<circle cx="1211.4" cy="1921" r="1.5" class="n"/>
<circle cx="1320.2" cy="1925.3" r="3.4" class="w"/>
<circle cx="1320.2" cy="1925.3" r="1.5" class="n"/>
<circle cx="1414" cy="1893.3" r="3.4" class="w"/>
<circle cx="1414" cy="1893.3" r="1.5" class="n"/>
<circle cx="1130.3" cy="1876.2" r="3.4" class="w"/>
<circle cx="1130.3" cy="1876.2" r="1.5" class="n"/>
<ellipse cx="1283.3" cy="1815" rx="180.6" ry="104" class="w"/>
<ellipse cx="1283.3" cy="1815.6" rx="178.2" ry="102.2" class="n"/>
<path d="M1115 1807.9 A170 87 0 0 1 1451.6 1807.9" class="n"/>
<path d="M1129.5 1810.9 A158.5 79 0 0 1 1437.1 1810.9" class="n"/>
<path d="M1432.5 1838 h1.6 M1429.1 1856.9 h1.6 M1410.1 1871.5 h1.6 M1387.9 1886.9 h1.6 M1358 1899.3 h1.6 M1322 1907.7 h1.6 M1282.5 1906.6 h1.6 M1243.7 1905.6 h1.6 M1206.6 1899.9 h1.6 M1178.3 1885.7 h1.6 M1153.4 1872.5 h1.6 M1136.7 1856.5 h1.6 M1129.8 1838.8 h1.6 M1139.3 1819.6 h1.6 M1152.6 1803 h1.6 M1175.2 1788.4 h1.6 M1208.8 1777.7 h1.6 M1243.9 1770.5 h1.6 M1282.5 1767.8 h1.6 M1322 1769.9 h1.6 M1356.6 1777.6 h1.6 M1388.6 1788.5 h1.6 M1414 1803.1 h1.6 M1424.8 1819.4 h1.6 M1420.6 1849 h1.6 M1403.1 1866.5 h1.6 M1379.4 1884.1 h1.6 M1345.6 1897.5 h1.6 M1304.5 1905.3 h1.6 M1261.2 1901.8 h1.6 M1219.8 1896.8 h1.6 M1183.6 1885.8 h1.6 M1161.9 1866.5 h1.6 M1147.1 1848 h1.6 M1145.3 1827.9 h1.6 M1157.1 1808.2 h1.6 M1186.2 1791.4 h1.6 M1219.8 1779.2 h1.6 M1260.6 1772.5 h1.6 M1303.7 1773.3 h1.6 M1344.7 1779.3 h1.6 M1380.7 1791.3 h1.6 M1407.9 1808.2 h1.6 M1417 1827.3 h1.6 M1405.5 1841.1 h1.6 M1397.9 1861.1 h1.6 M1377.3 1879.1 h1.6 M1345.6 1893.1 h1.6 M1305 1896.6 h1.6 M1263.8 1898.3 h1.6 M1223.5 1893.5 h1.6 M1193.2 1878.3 h1.6 M1168.8 1863 h1.6 M1156.2 1844.4 h1.6 M1157.2 1824.5 h1.6 M1177.4 1805.4 h1.6 M1203.5 1790.5 h1.6 M1239 1780.3 h1.6 M1280.5 1777.5 h1.6 M1321.2 1780.1 h1.6 M1358.8 1789.2 h1.6 M1389.1 1803.8 h1.6 M1402.4 1821.7 h1.6 M1391.4 1852.8 h1.6 M1372.7 1873.2 h1.6 M1339.5 1888.8 h1.6 M1295.7 1892.2 h1.6 M1251.6 1891.9 h1.6 M1210.8 1883.2 h1.6 M1185.4 1863.9 h1.6 M1170.2 1844.3 h1.6 M1171.9 1822.9 h1.6 M1190.9 1803.3 h1.6 M1227.7 1789.4 h1.6 M1269.1 1782.4 h1.6 M1313.9 1783.8 h1.6 M1351.4 1794.3 h1.6 M1381.2 1810.6 h1.6 M1396.6 1831.6 h1.6 M1385.8 1847.4 h1.6 M1362.2 1867.9 h1.6 M1325.5 1884.5 h1.6 M1277.5 1890.7 h1.6 M1228.9 1884.8 h1.6 M1196.5 1864.4 h1.6 M1179.8 1841.8 h1.6 M1186.4 1817.4 h1.6 M1219.7 1797.7 h1.6 M1262.9 1787.1 h1.6 M1312.2 1788 h1.6 M1356.3 1800.6 h1.6 M1378.7 1821.7 h1.6" class="dt"/>
<ellipse cx="1283.5" cy="1845" rx="89" ry="50.4" class="w"/>
<path d="M1200.8 1828.8 A88 49.6 0 0 1 1366.2 1828.8"/>
<path d="M1259 1797.8 q2.8 3 5.6 -0.4" class="n"/>
<path d="M1155.9 1749.4 C1159.4 1749.4 1171.6 1770 1171.6 1780 C1171.6 1786 1164.8 1787.5 1158 1787.5 C1151.2 1787.5 1144.4 1786 1144.4 1780 C1144.4 1770 1152.4 1749.4 1155.9 1749.4 Z" class="w"/>
<path d="M1246.5 1717.6 C1250 1717.6 1262.8 1741 1262.8 1751 C1262.8 1757 1255.4 1758.5 1248 1758.5 C1240.6 1758.5 1233.2 1757 1233.2 1751 C1233.2 1741 1243 1717.6 1246.5 1717.6 Z" class="w"/>
<path d="M1354.3 1723.8 C1357.8 1723.8 1367.6 1746 1367.6 1756 C1367.6 1762 1360.3 1763.5 1353 1763.5 C1345.7 1763.5 1338.4 1762 1338.4 1756 C1338.4 1746 1350.8 1723.8 1354.3 1723.8 Z" class="w"/>
<path d="M1431 1766.4 C1434.5 1766.4 1443.8 1787 1443.8 1797 C1443.8 1803 1436.9 1804.5 1430 1804.5 C1423.1 1804.5 1416.2 1803 1416.2 1797 C1416.2 1787 1427.5 1766.4 1431 1766.4 Z" class="w"/>
<path d="M1110.5 1806 L1129.5 1834 Q1133 1839 1128 1841 L1117 1842" class="w"/>
<path d="M1110.5 1806 L1113 1830" class="n"/>
<path d="M1456 1822 L1437 1850 Q1434 1856 1440 1858 L1452 1858" class="w"/>
<!-- 209 -->
<path d="M1468.8 1372.7 L1468.8 1584 Q1468.8 1597 1466.8 1604.1 A211.5 195.4 0 0 1 1108.8 1604.1 Q1106.8 1597 1106.8 1584 L1106.8 1372.7 Z" class="wf"/>
<path d="M1468.8 1372.7 L1468.8 1584 Q1468.8 1597 1466.8 1604.1 A211.5 195.4 0 0 1 1108.8 1604.1 Q1106.8 1597 1106.8 1584 L1106.8 1372.7"/>
<path d="M1461.2 1605.8 A208 191.6 0 0 1 1114.4 1605.8" class="n"/>
<clipPath id="c209"><ellipse cx="1287.8" cy="1371.7" rx="178.8" ry="95"/></clipPath>
<g clip-path="url(#c209)">
<ellipse cx="1287.8" cy="1371.7" rx="178.8" ry="95" class="wf"/>
<path d="M1109 1368.1 C1110 1368.1 1110.8 1370.7 1110.8 1374.1 L1110.8 1443.1 C1110.8 1446.4 1110 1449.1 1109 1449.1 C1108.1 1449.1 1107.3 1446.4 1107.3 1443.1 L1107.3 1374.1 C1107.3 1370.7 1108.1 1368.1 1109 1368.1 Z" class="n"/>
<path d="M1109.3 1374.1 Q1110 1408.6 1109.4 1444.1" class="h"/>
<path d="M1109.8 1371.1 L1109.8 1446.1" class="h"/>
<path d="M1109 1470.1 C1110 1470.1 1110.8 1472.7 1110.8 1476.1 L1110.8 1545.1 C1110.8 1548.4 1110 1551.1 1109 1551.1 C1108.1 1551.1 1107.3 1548.4 1107.3 1545.1 L1107.3 1476.1 C1107.3 1472.7 1108.1 1470.1 1109 1470.1 Z" class="n"/>
<path d="M1109.3 1476.1 Q1110 1510.6 1109.4 1546.1" class="h"/>
<path d="M1109.8 1473.1 L1109.8 1548.1" class="h"/>
<ellipse cx="1115.7" cy="1356.5" rx="1.4" ry="3.6" class="n" transform="rotate(24 1115.7 1356.5)"/>
<ellipse cx="1116" cy="1356.7" rx="0.7" ry="1.7" class="n" transform="rotate(24 1116 1356.7)"/>
<ellipse cx="1115.7" cy="1367.9" rx="1.4" ry="3.6" class="n" transform="rotate(24 1115.7 1367.9)"/>
<ellipse cx="1116" cy="1368.1" rx="0.7" ry="1.7" class="n" transform="rotate(24 1116 1368.1)"/>
<ellipse cx="1115.7" cy="1379.3" rx="1.4" ry="3.6" class="n" transform="rotate(24 1115.7 1379.3)"/>
<ellipse cx="1116" cy="1379.5" rx="0.7" ry="1.7" class="n" transform="rotate(24 1116 1379.5)"/>
<ellipse cx="1115.7" cy="1390.7" rx="1.4" ry="3.6" class="n" transform="rotate(24 1115.7 1390.7)"/>
<ellipse cx="1116" cy="1390.9" rx="0.7" ry="1.7" class="n" transform="rotate(24 1116 1390.9)"/>
<ellipse cx="1115.7" cy="1402.1" rx="1.4" ry="3.6" class="n" transform="rotate(24 1115.7 1402.1)"/>
<ellipse cx="1116" cy="1402.3" rx="0.7" ry="1.7" class="n" transform="rotate(24 1116 1402.3)"/>
<ellipse cx="1115.7" cy="1413.5" rx="1.4" ry="3.6" class="n" transform="rotate(24 1115.7 1413.5)"/>
<ellipse cx="1116" cy="1413.7" rx="0.7" ry="1.7" class="n" transform="rotate(24 1116 1413.7)"/>
<ellipse cx="1115.7" cy="1424.9" rx="1.4" ry="3.6" class="n" transform="rotate(24 1115.7 1424.9)"/>
<ellipse cx="1116" cy="1425.1" rx="0.7" ry="1.7" class="n" transform="rotate(24 1116 1425.1)"/>
<ellipse cx="1115.7" cy="1458.5" rx="1.4" ry="3.6" class="n" transform="rotate(24 1115.7 1458.5)"/>
<ellipse cx="1116" cy="1458.7" rx="0.7" ry="1.7" class="n" transform="rotate(24 1116 1458.7)"/>
<ellipse cx="1115.7" cy="1469.9" rx="1.4" ry="3.6" class="n" transform="rotate(24 1115.7 1469.9)"/>
<ellipse cx="1116" cy="1470.1" rx="0.7" ry="1.7" class="n" transform="rotate(24 1116 1470.1)"/>
<ellipse cx="1115.7" cy="1481.3" rx="1.4" ry="3.6" class="n" transform="rotate(24 1115.7 1481.3)"/>
<ellipse cx="1116" cy="1481.5" rx="0.7" ry="1.7" class="n" transform="rotate(24 1116 1481.5)"/>
<ellipse cx="1115.7" cy="1492.7" rx="1.4" ry="3.6" class="n" transform="rotate(24 1115.7 1492.7)"/>
<ellipse cx="1116" cy="1492.9" rx="0.7" ry="1.7" class="n" transform="rotate(24 1116 1492.9)"/>
<ellipse cx="1115.7" cy="1504.1" rx="1.4" ry="3.6" class="n" transform="rotate(24 1115.7 1504.1)"/>
<ellipse cx="1116" cy="1504.3" rx="0.7" ry="1.7" class="n" transform="rotate(24 1116 1504.3)"/>
<ellipse cx="1115.7" cy="1515.5" rx="1.4" ry="3.6" class="n" transform="rotate(24 1115.7 1515.5)"/>
<ellipse cx="1116" cy="1515.7" rx="0.7" ry="1.7" class="n" transform="rotate(24 1116 1515.7)"/>
<ellipse cx="1115.7" cy="1526.9" rx="1.4" ry="3.6" class="n" transform="rotate(24 1115.7 1526.9)"/>
<ellipse cx="1116" cy="1527.1" rx="0.7" ry="1.7" class="n" transform="rotate(24 1116 1527.1)"/>
<path d="M1126.5 1338.3 C1129.4 1338.3 1131.7 1341.2 1131.7 1344.7 L1131.7 1412.9 C1131.7 1416.4 1129.4 1419.3 1126.5 1419.3 C1123.7 1419.3 1121.4 1416.4 1121.4 1412.9 L1121.4 1344.7 C1121.4 1341.2 1123.7 1338.3 1126.5 1338.3 Z" class="n"/>
<path d="M1127.2 1344.3 Q1129.3 1378.8 1127.6 1414.3" class="h"/>
<path d="M1128.8 1341.3 L1128.8 1416.3" class="h"/>
<path d="M1126.5 1440.3 C1129.4 1440.3 1131.7 1443.2 1131.7 1446.7 L1131.7 1514.9 C1131.7 1518.4 1129.4 1521.3 1126.5 1521.3 C1123.7 1521.3 1121.4 1518.4 1121.4 1514.9 L1121.4 1446.7 C1121.4 1443.2 1123.7 1440.3 1126.5 1440.3 Z" class="n"/>
<path d="M1127.2 1446.3 Q1129.3 1480.8 1127.6 1516.3" class="h"/>
<path d="M1128.8 1443.3 L1128.8 1518.3" class="h"/>
<ellipse cx="1141.4" cy="1328.6" rx="2.6" ry="3.6" class="n" transform="rotate(18 1141.4 1328.6)"/>
<ellipse cx="1141.7" cy="1328.8" rx="1.3" ry="1.7" class="n" transform="rotate(18 1141.7 1328.8)"/>
<ellipse cx="1141.4" cy="1340" rx="2.6" ry="3.6" class="n" transform="rotate(18 1141.4 1340)"/>
<ellipse cx="1141.7" cy="1340.2" rx="1.3" ry="1.7" class="n" transform="rotate(18 1141.7 1340.2)"/>
<ellipse cx="1141.4" cy="1351.4" rx="2.6" ry="3.6" class="n" transform="rotate(18 1141.4 1351.4)"/>
<ellipse cx="1141.7" cy="1351.6" rx="1.3" ry="1.7" class="n" transform="rotate(18 1141.7 1351.6)"/>
<ellipse cx="1141.4" cy="1362.8" rx="2.6" ry="3.6" class="n" transform="rotate(18 1141.4 1362.8)"/>
<ellipse cx="1141.7" cy="1363" rx="1.3" ry="1.7" class="n" transform="rotate(18 1141.7 1363)"/>
<ellipse cx="1141.4" cy="1374.2" rx="2.6" ry="3.6" class="n" transform="rotate(18 1141.4 1374.2)"/>
<ellipse cx="1141.7" cy="1374.4" rx="1.3" ry="1.7" class="n" transform="rotate(18 1141.7 1374.4)"/>
<ellipse cx="1141.4" cy="1385.6" rx="2.6" ry="3.6" class="n" transform="rotate(18 1141.4 1385.6)"/>
<ellipse cx="1141.7" cy="1385.8" rx="1.3" ry="1.7" class="n" transform="rotate(18 1141.7 1385.8)"/>
<ellipse cx="1141.4" cy="1397" rx="2.6" ry="3.6" class="n" transform="rotate(18 1141.4 1397)"/>
<ellipse cx="1141.7" cy="1397.2" rx="1.3" ry="1.7" class="n" transform="rotate(18 1141.7 1397.2)"/>
<ellipse cx="1141.4" cy="1430.6" rx="2.6" ry="3.6" class="n" transform="rotate(18 1141.4 1430.6)"/>
<ellipse cx="1141.7" cy="1430.8" rx="1.3" ry="1.7" class="n" transform="rotate(18 1141.7 1430.8)"/>
<ellipse cx="1141.4" cy="1442" rx="2.6" ry="3.6" class="n" transform="rotate(18 1141.4 1442)"/>
<ellipse cx="1141.7" cy="1442.2" rx="1.3" ry="1.7" class="n" transform="rotate(18 1141.7 1442.2)"/>
<ellipse cx="1141.4" cy="1453.4" rx="2.6" ry="3.6" class="n" transform="rotate(18 1141.4 1453.4)"/>
<ellipse cx="1141.7" cy="1453.6" rx="1.3" ry="1.7" class="n" transform="rotate(18 1141.7 1453.6)"/>
<ellipse cx="1141.4" cy="1464.8" rx="2.6" ry="3.6" class="n" transform="rotate(18 1141.4 1464.8)"/>
<ellipse cx="1141.7" cy="1465" rx="1.3" ry="1.7" class="n" transform="rotate(18 1141.7 1465)"/>
<ellipse cx="1141.4" cy="1476.2" rx="2.6" ry="3.6" class="n" transform="rotate(18 1141.4 1476.2)"/>
<ellipse cx="1141.7" cy="1476.4" rx="1.3" ry="1.7" class="n" transform="rotate(18 1141.7 1476.4)"/>
<ellipse cx="1141.4" cy="1487.6" rx="2.6" ry="3.6" class="n" transform="rotate(18 1141.4 1487.6)"/>
<ellipse cx="1141.7" cy="1487.8" rx="1.3" ry="1.7" class="n" transform="rotate(18 1141.7 1487.8)"/>
<ellipse cx="1141.4" cy="1499" rx="2.6" ry="3.6" class="n" transform="rotate(18 1141.4 1499)"/>
<ellipse cx="1141.7" cy="1499.2" rx="1.3" ry="1.7" class="n" transform="rotate(18 1141.7 1499.2)"/>
<path d="M1159.8 1313 C1164.2 1313 1167.8 1317.5 1167.8 1323 L1167.8 1384 C1167.8 1389.5 1164.2 1394 1159.8 1394 C1155.4 1394 1151.8 1389.5 1151.8 1384 L1151.8 1323 C1151.8 1317.5 1155.4 1313 1159.8 1313 Z" class="n"/>
<path d="M1160.9 1319 Q1164.2 1353.5 1161.4 1389" class="h"/>
<path d="M1163.4 1316 L1163.4 1391" class="h"/>
<path d="M1159.8 1415 C1164.2 1415 1167.8 1419.5 1167.8 1425 L1167.8 1486 C1167.8 1491.5 1164.2 1496 1159.8 1496 C1155.4 1496 1151.8 1491.5 1151.8 1486 L1151.8 1425 C1151.8 1419.5 1155.4 1415 1159.8 1415 Z" class="n"/>
<path d="M1160.9 1421 Q1164.2 1455.5 1161.4 1491" class="h"/>
<path d="M1163.4 1418 L1163.4 1493" class="h"/>
<ellipse cx="1181.4" cy="1306.5" rx="3.6" ry="3.6" class="n" transform="rotate(12 1181.4 1306.5)"/>
<ellipse cx="1181.7" cy="1306.7" rx="1.8" ry="1.7" class="n" transform="rotate(12 1181.7 1306.7)"/>
<ellipse cx="1181.4" cy="1317.9" rx="3.6" ry="3.6" class="n" transform="rotate(12 1181.4 1317.9)"/>
<ellipse cx="1181.7" cy="1318.1" rx="1.8" ry="1.7" class="n" transform="rotate(12 1181.7 1318.1)"/>
<ellipse cx="1181.4" cy="1329.3" rx="3.6" ry="3.6" class="n" transform="rotate(12 1181.4 1329.3)"/>
<ellipse cx="1181.7" cy="1329.5" rx="1.8" ry="1.7" class="n" transform="rotate(12 1181.7 1329.5)"/>
<ellipse cx="1181.4" cy="1340.7" rx="3.6" ry="3.6" class="n" transform="rotate(12 1181.4 1340.7)"/>
<ellipse cx="1181.7" cy="1340.9" rx="1.8" ry="1.7" class="n" transform="rotate(12 1181.7 1340.9)"/>
<ellipse cx="1181.4" cy="1352.1" rx="3.6" ry="3.6" class="n" transform="rotate(12 1181.4 1352.1)"/>
<ellipse cx="1181.7" cy="1352.3" rx="1.8" ry="1.7" class="n" transform="rotate(12 1181.7 1352.3)"/>
<ellipse cx="1181.4" cy="1363.5" rx="3.6" ry="3.6" class="n" transform="rotate(12 1181.4 1363.5)"/>
<ellipse cx="1181.7" cy="1363.7" rx="1.8" ry="1.7" class="n" transform="rotate(12 1181.7 1363.7)"/>
<ellipse cx="1181.4" cy="1374.9" rx="3.6" ry="3.6" class="n" transform="rotate(12 1181.4 1374.9)"/>
<ellipse cx="1181.7" cy="1375.1" rx="1.8" ry="1.7" class="n" transform="rotate(12 1181.7 1375.1)"/>
<ellipse cx="1181.4" cy="1408.5" rx="3.6" ry="3.6" class="n" transform="rotate(12 1181.4 1408.5)"/>
<ellipse cx="1181.7" cy="1408.7" rx="1.8" ry="1.7" class="n" transform="rotate(12 1181.7 1408.7)"/>
<ellipse cx="1181.4" cy="1419.9" rx="3.6" ry="3.6" class="n" transform="rotate(12 1181.4 1419.9)"/>
<ellipse cx="1181.7" cy="1420.1" rx="1.8" ry="1.7" class="n" transform="rotate(12 1181.7 1420.1)"/>
<ellipse cx="1181.4" cy="1431.3" rx="3.6" ry="3.6" class="n" transform="rotate(12 1181.4 1431.3)"/>
<ellipse cx="1181.7" cy="1431.5" rx="1.8" ry="1.7" class="n" transform="rotate(12 1181.7 1431.5)"/>
<ellipse cx="1181.4" cy="1442.7" rx="3.6" ry="3.6" class="n" transform="rotate(12 1181.4 1442.7)"/>
<ellipse cx="1181.7" cy="1442.9" rx="1.8" ry="1.7" class="n" transform="rotate(12 1181.7 1442.9)"/>
<ellipse cx="1181.4" cy="1454.1" rx="3.6" ry="3.6" class="n" transform="rotate(12 1181.4 1454.1)"/>
<ellipse cx="1181.7" cy="1454.3" rx="1.8" ry="1.7" class="n" transform="rotate(12 1181.7 1454.3)"/>
<ellipse cx="1181.4" cy="1465.5" rx="3.6" ry="3.6" class="n" transform="rotate(12 1181.4 1465.5)"/>
<ellipse cx="1181.7" cy="1465.7" rx="1.8" ry="1.7" class="n" transform="rotate(12 1181.7 1465.7)"/>
<ellipse cx="1181.4" cy="1476.9" rx="3.6" ry="3.6" class="n" transform="rotate(12 1181.4 1476.9)"/>
<ellipse cx="1181.7" cy="1477.1" rx="1.8" ry="1.7" class="n" transform="rotate(12 1181.7 1477.1)"/>
<path d="M1205.6 1294.6 C1211.2 1294.6 1215.7 1300.2 1215.7 1307.2 L1215.7 1363 C1215.7 1370 1211.2 1375.6 1205.6 1375.6 C1200.1 1375.6 1195.6 1370 1195.6 1363 L1195.6 1307.2 C1195.6 1300.2 1200.1 1294.6 1205.6 1294.6 Z" class="n"/>
<path d="M1206.9 1300.6 Q1211.2 1335.1 1207.6 1370.6" class="h"/>
<path d="M1210.2 1297.6 L1210.2 1372.6" class="h"/>
<path d="M1205.6 1396.6 C1211.2 1396.6 1215.7 1402.2 1215.7 1409.2 L1215.7 1465 C1215.7 1472 1211.2 1477.6 1205.6 1477.6 C1200.1 1477.6 1195.6 1472 1195.6 1465 L1195.6 1409.2 C1195.6 1402.2 1200.1 1396.6 1205.6 1396.6 Z" class="n"/>
<path d="M1206.9 1402.6 Q1211.2 1437.1 1207.6 1472.6" class="h"/>
<path d="M1210.2 1399.6 L1210.2 1474.6" class="h"/>
<ellipse cx="1231.9" cy="1292.3" rx="4.3" ry="3.6" class="n" transform="rotate(6 1231.9 1292.3)"/>
<ellipse cx="1232.2" cy="1292.5" rx="2.1" ry="1.7" class="n" transform="rotate(6 1232.2 1292.5)"/>
<ellipse cx="1231.9" cy="1303.7" rx="4.3" ry="3.6" class="n" transform="rotate(6 1231.9 1303.7)"/>
<ellipse cx="1232.2" cy="1303.9" rx="2.1" ry="1.7" class="n" transform="rotate(6 1232.2 1303.9)"/>
<ellipse cx="1231.9" cy="1315.1" rx="4.3" ry="3.6" class="n" transform="rotate(6 1231.9 1315.1)"/>
<ellipse cx="1232.2" cy="1315.3" rx="2.1" ry="1.7" class="n" transform="rotate(6 1232.2 1315.3)"/>
<ellipse cx="1231.9" cy="1326.5" rx="4.3" ry="3.6" class="n" transform="rotate(6 1231.9 1326.5)"/>
<ellipse cx="1232.2" cy="1326.7" rx="2.1" ry="1.7" class="n" transform="rotate(6 1232.2 1326.7)"/>
<ellipse cx="1231.9" cy="1337.9" rx="4.3" ry="3.6" class="n" transform="rotate(6 1231.9 1337.9)"/>
<ellipse cx="1232.2" cy="1338.1" rx="2.1" ry="1.7" class="n" transform="rotate(6 1232.2 1338.1)"/>
<ellipse cx="1231.9" cy="1349.3" rx="4.3" ry="3.6" class="n" transform="rotate(6 1231.9 1349.3)"/>
<ellipse cx="1232.2" cy="1349.5" rx="2.1" ry="1.7" class="n" transform="rotate(6 1232.2 1349.5)"/>
<ellipse cx="1231.9" cy="1360.7" rx="4.3" ry="3.6" class="n" transform="rotate(6 1231.9 1360.7)"/>
<ellipse cx="1232.2" cy="1360.9" rx="2.1" ry="1.7" class="n" transform="rotate(6 1232.2 1360.9)"/>
<ellipse cx="1231.9" cy="1394.3" rx="4.3" ry="3.6" class="n" transform="rotate(6 1231.9 1394.3)"/>
<ellipse cx="1232.2" cy="1394.5" rx="2.1" ry="1.7" class="n" transform="rotate(6 1232.2 1394.5)"/>
<ellipse cx="1231.9" cy="1405.7" rx="4.3" ry="3.6" class="n" transform="rotate(6 1231.9 1405.7)"/>
<ellipse cx="1232.2" cy="1405.9" rx="2.1" ry="1.7" class="n" transform="rotate(6 1232.2 1405.9)"/>
<ellipse cx="1231.9" cy="1417.1" rx="4.3" ry="3.6" class="n" transform="rotate(6 1231.9 1417.1)"/>
<ellipse cx="1232.2" cy="1417.3" rx="2.1" ry="1.7" class="n" transform="rotate(6 1232.2 1417.3)"/>
<ellipse cx="1231.9" cy="1428.5" rx="4.3" ry="3.6" class="n" transform="rotate(6 1231.9 1428.5)"/>
<ellipse cx="1232.2" cy="1428.7" rx="2.1" ry="1.7" class="n" transform="rotate(6 1232.2 1428.7)"/>
<ellipse cx="1231.9" cy="1439.9" rx="4.3" ry="3.6" class="n" transform="rotate(6 1231.9 1439.9)"/>
<ellipse cx="1232.2" cy="1440.1" rx="2.1" ry="1.7" class="n" transform="rotate(6 1232.2 1440.1)"/>
<ellipse cx="1231.9" cy="1451.3" rx="4.3" ry="3.6" class="n" transform="rotate(6 1231.9 1451.3)"/>
<ellipse cx="1232.2" cy="1451.5" rx="2.1" ry="1.7" class="n" transform="rotate(6 1232.2 1451.5)"/>
<ellipse cx="1231.9" cy="1462.7" rx="4.3" ry="3.6" class="n" transform="rotate(6 1231.9 1462.7)"/>
<ellipse cx="1232.2" cy="1462.9" rx="2.1" ry="1.7" class="n" transform="rotate(6 1232.2 1462.9)"/>
<path d="M1259.5 1284.9 C1265.6 1284.9 1270.6 1291.2 1270.6 1298.9 L1270.6 1454 C1270.6 1461.7 1265.6 1467.9 1259.5 1467.9 C1253.3 1467.9 1248.3 1461.7 1248.3 1454 L1248.3 1298.9 C1248.3 1291.2 1253.3 1284.9 1259.5 1284.9 Z" class="n"/>
<path d="M1260.9 1290.9 Q1265.6 1376.4 1261.7 1462.9" class="h"/>
<path d="M1264.5 1287.9 L1264.5 1464.9" class="h"/>
<path d="M1316.1 1284.9 C1322.3 1284.9 1327.3 1291.2 1327.3 1298.9 L1327.3 1454 C1327.3 1461.7 1322.3 1467.9 1316.1 1467.9 C1310 1467.9 1305 1461.7 1305 1454 L1305 1298.9 C1305 1291.2 1310 1284.9 1316.1 1284.9 Z" class="n"/>
<path d="M1312 1290.9 Q1316.7 1376.4 1312.8 1462.9" class="h"/>
<path d="M1315.6 1287.9 L1315.6 1464.9" class="h"/>
<ellipse cx="1343.7" cy="1292.3" rx="4.3" ry="3.6" class="n" transform="rotate(-6 1343.7 1292.3)"/>
<ellipse cx="1344" cy="1292.5" rx="2.1" ry="1.7" class="n" transform="rotate(-6 1344 1292.5)"/>
<ellipse cx="1343.7" cy="1303.7" rx="4.3" ry="3.6" class="n" transform="rotate(-6 1343.7 1303.7)"/>
<ellipse cx="1344" cy="1303.9" rx="2.1" ry="1.7" class="n" transform="rotate(-6 1344 1303.9)"/>
<ellipse cx="1343.7" cy="1315.1" rx="4.3" ry="3.6" class="n" transform="rotate(-6 1343.7 1315.1)"/>
<ellipse cx="1344" cy="1315.3" rx="2.1" ry="1.7" class="n" transform="rotate(-6 1344 1315.3)"/>
<ellipse cx="1343.7" cy="1326.5" rx="4.3" ry="3.6" class="n" transform="rotate(-6 1343.7 1326.5)"/>
<ellipse cx="1344" cy="1326.7" rx="2.1" ry="1.7" class="n" transform="rotate(-6 1344 1326.7)"/>
<ellipse cx="1343.7" cy="1337.9" rx="4.3" ry="3.6" class="n" transform="rotate(-6 1343.7 1337.9)"/>
<ellipse cx="1344" cy="1338.1" rx="2.1" ry="1.7" class="n" transform="rotate(-6 1344 1338.1)"/>
<ellipse cx="1343.7" cy="1349.3" rx="4.3" ry="3.6" class="n" transform="rotate(-6 1343.7 1349.3)"/>
<ellipse cx="1344" cy="1349.5" rx="2.1" ry="1.7" class="n" transform="rotate(-6 1344 1349.5)"/>
<ellipse cx="1343.7" cy="1360.7" rx="4.3" ry="3.6" class="n" transform="rotate(-6 1343.7 1360.7)"/>
<ellipse cx="1344" cy="1360.9" rx="2.1" ry="1.7" class="n" transform="rotate(-6 1344 1360.9)"/>
<ellipse cx="1343.7" cy="1394.3" rx="4.3" ry="3.6" class="n" transform="rotate(-6 1343.7 1394.3)"/>
<ellipse cx="1344" cy="1394.5" rx="2.1" ry="1.7" class="n" transform="rotate(-6 1344 1394.5)"/>
<ellipse cx="1343.7" cy="1405.7" rx="4.3" ry="3.6" class="n" transform="rotate(-6 1343.7 1405.7)"/>
<ellipse cx="1344" cy="1405.9" rx="2.1" ry="1.7" class="n" transform="rotate(-6 1344 1405.9)"/>
<ellipse cx="1343.7" cy="1417.1" rx="4.3" ry="3.6" class="n" transform="rotate(-6 1343.7 1417.1)"/>
<ellipse cx="1344" cy="1417.3" rx="2.1" ry="1.7" class="n" transform="rotate(-6 1344 1417.3)"/>
<ellipse cx="1343.7" cy="1428.5" rx="4.3" ry="3.6" class="n" transform="rotate(-6 1343.7 1428.5)"/>
<ellipse cx="1344" cy="1428.7" rx="2.1" ry="1.7" class="n" transform="rotate(-6 1344 1428.7)"/>
<ellipse cx="1343.7" cy="1439.9" rx="4.3" ry="3.6" class="n" transform="rotate(-6 1343.7 1439.9)"/>
<ellipse cx="1344" cy="1440.1" rx="2.1" ry="1.7" class="n" transform="rotate(-6 1344 1440.1)"/>
<ellipse cx="1343.7" cy="1451.3" rx="4.3" ry="3.6" class="n" transform="rotate(-6 1343.7 1451.3)"/>
<ellipse cx="1344" cy="1451.5" rx="2.1" ry="1.7" class="n" transform="rotate(-6 1344 1451.5)"/>
<ellipse cx="1343.7" cy="1462.7" rx="4.3" ry="3.6" class="n" transform="rotate(-6 1343.7 1462.7)"/>
<ellipse cx="1344" cy="1462.9" rx="2.1" ry="1.7" class="n" transform="rotate(-6 1344 1462.9)"/>
<path d="M1370 1294.6 C1375.5 1294.6 1380 1300.2 1380 1307.2 L1380 1363 C1380 1370 1375.5 1375.6 1370 1375.6 C1364.4 1375.6 1359.9 1370 1359.9 1363 L1359.9 1307.2 C1359.9 1300.2 1364.4 1294.6 1370 1294.6 Z" class="n"/>
<path d="M1366.2 1300.6 Q1370.5 1335.1 1367 1370.6" class="h"/>
<path d="M1369.5 1297.6 L1369.5 1372.6" class="h"/>
<path d="M1370 1396.6 C1375.5 1396.6 1380 1402.2 1380 1409.2 L1380 1465 C1380 1472 1375.5 1477.6 1370 1477.6 C1364.4 1477.6 1359.9 1472 1359.9 1465 L1359.9 1409.2 C1359.9 1402.2 1364.4 1396.6 1370 1396.6 Z" class="n"/>
<path d="M1366.2 1402.6 Q1370.5 1437.1 1367 1472.6" class="h"/>
<path d="M1369.5 1399.6 L1369.5 1474.6" class="h"/>
<ellipse cx="1394.2" cy="1306.5" rx="3.6" ry="3.6" class="n" transform="rotate(-12 1394.2 1306.5)"/>
<ellipse cx="1394.5" cy="1306.7" rx="1.8" ry="1.7" class="n" transform="rotate(-12 1394.5 1306.7)"/>
<ellipse cx="1394.2" cy="1317.9" rx="3.6" ry="3.6" class="n" transform="rotate(-12 1394.2 1317.9)"/>
<ellipse cx="1394.5" cy="1318.1" rx="1.8" ry="1.7" class="n" transform="rotate(-12 1394.5 1318.1)"/>
<ellipse cx="1394.2" cy="1329.3" rx="3.6" ry="3.6" class="n" transform="rotate(-12 1394.2 1329.3)"/>
<ellipse cx="1394.5" cy="1329.5" rx="1.8" ry="1.7" class="n" transform="rotate(-12 1394.5 1329.5)"/>
<ellipse cx="1394.2" cy="1340.7" rx="3.6" ry="3.6" class="n" transform="rotate(-12 1394.2 1340.7)"/>
<ellipse cx="1394.5" cy="1340.9" rx="1.8" ry="1.7" class="n" transform="rotate(-12 1394.5 1340.9)"/>
<ellipse cx="1394.2" cy="1352.1" rx="3.6" ry="3.6" class="n" transform="rotate(-12 1394.2 1352.1)"/>
<ellipse cx="1394.5" cy="1352.3" rx="1.8" ry="1.7" class="n" transform="rotate(-12 1394.5 1352.3)"/>
<ellipse cx="1394.2" cy="1363.5" rx="3.6" ry="3.6" class="n" transform="rotate(-12 1394.2 1363.5)"/>
<ellipse cx="1394.5" cy="1363.7" rx="1.8" ry="1.7" class="n" transform="rotate(-12 1394.5 1363.7)"/>
<ellipse cx="1394.2" cy="1374.9" rx="3.6" ry="3.6" class="n" transform="rotate(-12 1394.2 1374.9)"/>
<ellipse cx="1394.5" cy="1375.1" rx="1.8" ry="1.7" class="n" transform="rotate(-12 1394.5 1375.1)"/>
<ellipse cx="1394.2" cy="1408.5" rx="3.6" ry="3.6" class="n" transform="rotate(-12 1394.2 1408.5)"/>
<ellipse cx="1394.5" cy="1408.7" rx="1.8" ry="1.7" class="n" transform="rotate(-12 1394.5 1408.7)"/>
<ellipse cx="1394.2" cy="1419.9" rx="3.6" ry="3.6" class="n" transform="rotate(-12 1394.2 1419.9)"/>
<ellipse cx="1394.5" cy="1420.1" rx="1.8" ry="1.7" class="n" transform="rotate(-12 1394.5 1420.1)"/>
<ellipse cx="1394.2" cy="1431.3" rx="3.6" ry="3.6" class="n" transform="rotate(-12 1394.2 1431.3)"/>
<ellipse cx="1394.5" cy="1431.5" rx="1.8" ry="1.7" class="n" transform="rotate(-12 1394.5 1431.5)"/>
<ellipse cx="1394.2" cy="1442.7" rx="3.6" ry="3.6" class="n" transform="rotate(-12 1394.2 1442.7)"/>
<ellipse cx="1394.5" cy="1442.9" rx="1.8" ry="1.7" class="n" transform="rotate(-12 1394.5 1442.9)"/>
<ellipse cx="1394.2" cy="1454.1" rx="3.6" ry="3.6" class="n" transform="rotate(-12 1394.2 1454.1)"/>
<ellipse cx="1394.5" cy="1454.3" rx="1.8" ry="1.7" class="n" transform="rotate(-12 1394.5 1454.3)"/>
<ellipse cx="1394.2" cy="1465.5" rx="3.6" ry="3.6" class="n" transform="rotate(-12 1394.2 1465.5)"/>
<ellipse cx="1394.5" cy="1465.7" rx="1.8" ry="1.7" class="n" transform="rotate(-12 1394.5 1465.7)"/>
<ellipse cx="1394.2" cy="1476.9" rx="3.6" ry="3.6" class="n" transform="rotate(-12 1394.2 1476.9)"/>
<ellipse cx="1394.5" cy="1477.1" rx="1.8" ry="1.7" class="n" transform="rotate(-12 1394.5 1477.1)"/>
<path d="M1415.8 1313 C1420.2 1313 1423.8 1317.5 1423.8 1323 L1423.8 1384 C1423.8 1389.5 1420.2 1394 1415.8 1394 C1411.4 1394 1407.8 1389.5 1407.8 1384 L1407.8 1323 C1407.8 1317.5 1411.4 1313 1415.8 1313 Z" class="n"/>
<path d="M1412.8 1319 Q1416.2 1353.5 1413.4 1389" class="h"/>
<path d="M1415.4 1316 L1415.4 1391" class="h"/>
<path d="M1415.8 1415 C1420.2 1415 1423.8 1419.5 1423.8 1425 L1423.8 1486 C1423.8 1491.5 1420.2 1496 1415.8 1496 C1411.4 1496 1407.8 1491.5 1407.8 1486 L1407.8 1425 C1407.8 1419.5 1411.4 1415 1415.8 1415 Z" class="n"/>
<path d="M1412.8 1421 Q1416.2 1455.5 1413.4 1491" class="h"/>
<path d="M1415.4 1418 L1415.4 1493" class="h"/>
<ellipse cx="1434.2" cy="1328.6" rx="2.6" ry="3.6" class="n" transform="rotate(-18 1434.2 1328.6)"/>
<ellipse cx="1434.5" cy="1328.8" rx="1.3" ry="1.7" class="n" transform="rotate(-18 1434.5 1328.8)"/>
<ellipse cx="1434.2" cy="1340" rx="2.6" ry="3.6" class="n" transform="rotate(-18 1434.2 1340)"/>
<ellipse cx="1434.5" cy="1340.2" rx="1.3" ry="1.7" class="n" transform="rotate(-18 1434.5 1340.2)"/>
<ellipse cx="1434.2" cy="1351.4" rx="2.6" ry="3.6" class="n" transform="rotate(-18 1434.2 1351.4)"/>
<ellipse cx="1434.5" cy="1351.6" rx="1.3" ry="1.7" class="n" transform="rotate(-18 1434.5 1351.6)"/>
<ellipse cx="1434.2" cy="1362.8" rx="2.6" ry="3.6" class="n" transform="rotate(-18 1434.2 1362.8)"/>
<ellipse cx="1434.5" cy="1363" rx="1.3" ry="1.7" class="n" transform="rotate(-18 1434.5 1363)"/>
<ellipse cx="1434.2" cy="1374.2" rx="2.6" ry="3.6" class="n" transform="rotate(-18 1434.2 1374.2)"/>
<ellipse cx="1434.5" cy="1374.4" rx="1.3" ry="1.7" class="n" transform="rotate(-18 1434.5 1374.4)"/>
<ellipse cx="1434.2" cy="1385.6" rx="2.6" ry="3.6" class="n" transform="rotate(-18 1434.2 1385.6)"/>
<ellipse cx="1434.5" cy="1385.8" rx="1.3" ry="1.7" class="n" transform="rotate(-18 1434.5 1385.8)"/>
<ellipse cx="1434.2" cy="1397" rx="2.6" ry="3.6" class="n" transform="rotate(-18 1434.2 1397)"/>
<ellipse cx="1434.5" cy="1397.2" rx="1.3" ry="1.7" class="n" transform="rotate(-18 1434.5 1397.2)"/>
<ellipse cx="1434.2" cy="1430.6" rx="2.6" ry="3.6" class="n" transform="rotate(-18 1434.2 1430.6)"/>
<ellipse cx="1434.5" cy="1430.8" rx="1.3" ry="1.7" class="n" transform="rotate(-18 1434.5 1430.8)"/>
<ellipse cx="1434.2" cy="1442" rx="2.6" ry="3.6" class="n" transform="rotate(-18 1434.2 1442)"/>
<ellipse cx="1434.5" cy="1442.2" rx="1.3" ry="1.7" class="n" transform="rotate(-18 1434.5 1442.2)"/>
<ellipse cx="1434.2" cy="1453.4" rx="2.6" ry="3.6" class="n" transform="rotate(-18 1434.2 1453.4)"/>
<ellipse cx="1434.5" cy="1453.6" rx="1.3" ry="1.7" class="n" transform="rotate(-18 1434.5 1453.6)"/>
<ellipse cx="1434.2" cy="1464.8" rx="2.6" ry="3.6" class="n" transform="rotate(-18 1434.2 1464.8)"/>
<ellipse cx="1434.5" cy="1465" rx="1.3" ry="1.7" class="n" transform="rotate(-18 1434.5 1465)"/>
<ellipse cx="1434.2" cy="1476.2" rx="2.6" ry="3.6" class="n" transform="rotate(-18 1434.2 1476.2)"/>
<ellipse cx="1434.5" cy="1476.4" rx="1.3" ry="1.7" class="n" transform="rotate(-18 1434.5 1476.4)"/>
<ellipse cx="1434.2" cy="1487.6" rx="2.6" ry="3.6" class="n" transform="rotate(-18 1434.2 1487.6)"/>
<ellipse cx="1434.5" cy="1487.8" rx="1.3" ry="1.7" class="n" transform="rotate(-18 1434.5 1487.8)"/>
<ellipse cx="1434.2" cy="1499" rx="2.6" ry="3.6" class="n" transform="rotate(-18 1434.2 1499)"/>
<ellipse cx="1434.5" cy="1499.2" rx="1.3" ry="1.7" class="n" transform="rotate(-18 1434.5 1499.2)"/>
<path d="M1449.1 1338.3 C1451.9 1338.3 1454.2 1341.2 1454.2 1344.7 L1454.2 1412.9 C1454.2 1416.4 1451.9 1419.3 1449.1 1419.3 C1446.2 1419.3 1443.9 1416.4 1443.9 1412.9 L1443.9 1344.7 C1443.9 1341.2 1446.2 1338.3 1449.1 1338.3 Z" class="n"/>
<path d="M1447.2 1344.3 Q1449.3 1378.8 1447.5 1414.3" class="h"/>
<path d="M1448.8 1341.3 L1448.8 1416.3" class="h"/>
<path d="M1449.1 1440.3 C1451.9 1440.3 1454.2 1443.2 1454.2 1446.7 L1454.2 1514.9 C1454.2 1518.4 1451.9 1521.3 1449.1 1521.3 C1446.2 1521.3 1443.9 1518.4 1443.9 1514.9 L1443.9 1446.7 C1443.9 1443.2 1446.2 1440.3 1449.1 1440.3 Z" class="n"/>
<path d="M1447.2 1446.3 Q1449.3 1480.8 1447.5 1516.3" class="h"/>
<path d="M1448.8 1443.3 L1448.8 1518.3" class="h"/>
<ellipse cx="1459.9" cy="1356.5" rx="1.4" ry="3.6" class="n" transform="rotate(-24 1459.9 1356.5)"/>
<ellipse cx="1460.2" cy="1356.7" rx="0.7" ry="1.7" class="n" transform="rotate(-24 1460.2 1356.7)"/>
<ellipse cx="1459.9" cy="1367.9" rx="1.4" ry="3.6" class="n" transform="rotate(-24 1459.9 1367.9)"/>
<ellipse cx="1460.2" cy="1368.1" rx="0.7" ry="1.7" class="n" transform="rotate(-24 1460.2 1368.1)"/>
<ellipse cx="1459.9" cy="1379.3" rx="1.4" ry="3.6" class="n" transform="rotate(-24 1459.9 1379.3)"/>
<ellipse cx="1460.2" cy="1379.5" rx="0.7" ry="1.7" class="n" transform="rotate(-24 1460.2 1379.5)"/>
<ellipse cx="1459.9" cy="1390.7" rx="1.4" ry="3.6" class="n" transform="rotate(-24 1459.9 1390.7)"/>
<ellipse cx="1460.2" cy="1390.9" rx="0.7" ry="1.7" class="n" transform="rotate(-24 1460.2 1390.9)"/>
<ellipse cx="1459.9" cy="1402.1" rx="1.4" ry="3.6" class="n" transform="rotate(-24 1459.9 1402.1)"/>
<ellipse cx="1460.2" cy="1402.3" rx="0.7" ry="1.7" class="n" transform="rotate(-24 1460.2 1402.3)"/>
<ellipse cx="1459.9" cy="1413.5" rx="1.4" ry="3.6" class="n" transform="rotate(-24 1459.9 1413.5)"/>
<ellipse cx="1460.2" cy="1413.7" rx="0.7" ry="1.7" class="n" transform="rotate(-24 1460.2 1413.7)"/>
<ellipse cx="1459.9" cy="1424.9" rx="1.4" ry="3.6" class="n" transform="rotate(-24 1459.9 1424.9)"/>
<ellipse cx="1460.2" cy="1425.1" rx="0.7" ry="1.7" class="n" transform="rotate(-24 1460.2 1425.1)"/>
<ellipse cx="1459.9" cy="1458.5" rx="1.4" ry="3.6" class="n" transform="rotate(-24 1459.9 1458.5)"/>
<ellipse cx="1460.2" cy="1458.7" rx="0.7" ry="1.7" class="n" transform="rotate(-24 1460.2 1458.7)"/>
<ellipse cx="1459.9" cy="1469.9" rx="1.4" ry="3.6" class="n" transform="rotate(-24 1459.9 1469.9)"/>
<ellipse cx="1460.2" cy="1470.1" rx="0.7" ry="1.7" class="n" transform="rotate(-24 1460.2 1470.1)"/>
<ellipse cx="1459.9" cy="1481.3" rx="1.4" ry="3.6" class="n" transform="rotate(-24 1459.9 1481.3)"/>
<ellipse cx="1460.2" cy="1481.5" rx="0.7" ry="1.7" class="n" transform="rotate(-24 1460.2 1481.5)"/>
<ellipse cx="1459.9" cy="1492.7" rx="1.4" ry="3.6" class="n" transform="rotate(-24 1459.9 1492.7)"/>
<ellipse cx="1460.2" cy="1492.9" rx="0.7" ry="1.7" class="n" transform="rotate(-24 1460.2 1492.9)"/>
<ellipse cx="1459.9" cy="1504.1" rx="1.4" ry="3.6" class="n" transform="rotate(-24 1459.9 1504.1)"/>
<ellipse cx="1460.2" cy="1504.3" rx="0.7" ry="1.7" class="n" transform="rotate(-24 1460.2 1504.3)"/>
<ellipse cx="1459.9" cy="1515.5" rx="1.4" ry="3.6" class="n" transform="rotate(-24 1459.9 1515.5)"/>
<ellipse cx="1460.2" cy="1515.7" rx="0.7" ry="1.7" class="n" transform="rotate(-24 1460.2 1515.7)"/>
<ellipse cx="1459.9" cy="1526.9" rx="1.4" ry="3.6" class="n" transform="rotate(-24 1459.9 1526.9)"/>
<ellipse cx="1460.2" cy="1527.1" rx="0.7" ry="1.7" class="n" transform="rotate(-24 1460.2 1527.1)"/>
<path d="M1466.6 1368.1 C1467.5 1368.1 1468.3 1370.7 1468.3 1374.1 L1468.3 1443.1 C1468.3 1446.4 1467.5 1449.1 1466.6 1449.1 C1465.6 1449.1 1464.8 1446.4 1464.8 1443.1 L1464.8 1374.1 C1464.8 1370.7 1465.6 1368.1 1466.6 1368.1 Z" class="n"/>
<path d="M1465.9 1374.1 Q1466.7 1408.6 1466 1444.1" class="h"/>
<path d="M1466.5 1371.1 L1466.5 1446.1" class="h"/>
<path d="M1466.6 1470.1 C1467.5 1470.1 1468.3 1472.7 1468.3 1476.1 L1468.3 1545.1 C1468.3 1548.4 1467.5 1551.1 1466.6 1551.1 C1465.6 1551.1 1464.8 1548.4 1464.8 1545.1 L1464.8 1476.1 C1464.8 1472.7 1465.6 1470.1 1466.6 1470.1 Z" class="n"/>
<path d="M1465.9 1476.1 Q1466.7 1510.6 1466 1546.1" class="h"/>
<path d="M1466.5 1473.1 L1466.5 1548.1" class="h"/>
<path d="M1282.1 1262 L1282.1 1470" class="n"/>
<path d="M1287.4 1262 L1287.4 1470"/>
<path d="M1288.9 1262 L1288.9 1470" class="n"/>
<path d="M1292.3 1262 L1292.3 1470" class="n"/>
</g>
<path d="M1468.2 1590.3 A191.4 128.9 0 0 1 1107.4 1590.3" class="n"/>
<circle cx="1292.6" cy="1301.9" r="10.3" class="w"/>
<path d="M1288.6 1300 L1289.2 1303.6 Q1292.6 1305.6 1296 1303.6 L1296.6 1300" class="w"/>
<ellipse cx="1292.6" cy="1299.2" rx="4.4" ry="3.1" class="w"/>
<ellipse cx="1292.6" cy="1299.1" rx="2.6" ry="1.7" class="n"/>
<path d="M1291 1304.8 L1291.4 1307.2 L1293.8 1307.2 L1294.2 1304.8 Z" class="k"/>
<ellipse cx="1290.1" cy="1372.3" rx="41.8" ry="55.6" class="w"/>
<g transform="translate(1230 1270) scale(0.07782)">
<path d="M420 1050 L385 1610 Q400 1680 520 1740 Q785 1850 1050 1740 Q1170 1680 1185 1610 L1150 1050 Z" class="w"/>
<rect x="375" y="1480" width="45" height="120" class="w"/>
<path d="M375 1540 L420 1540" class="n"/>
<rect x="1150" y="1480" width="45" height="120" class="w"/>
<path d="M1150 1540 L1195 1540" class="n"/>
<rect x="520" y="1690" width="60" height="90" class="w"/>
<path d="M520 1735 L580 1735" class="n"/>
<rect x="710" y="1740" width="150" height="90" class="w"/>
<path d="M710 1785 L860 1785" class="n"/>
<rect x="985" y="1690" width="60" height="90" class="w"/>
<path d="M985 1735 L1045 1735" class="n"/>
<path d="M430 1650 L520 1700 M1140 1650 L1050 1700" class="n"/>
<path d="M495 1230 L520 1700 L565 1700 L575 1240 Z" class="k2"/>
<path d="M1075 1230 L1050 1700 L1005 1700 L995 1240 Z" class="k2"/>
<path d="M470 1180 L495 1690 M1100 1180 L1075 1690 M600 1260 L590 1700 M970 1260 L980 1700" class="n"/>
<path d="M430 1100 L410 1600 M1140 1100 L1160 1600" class="n"/>
<path d="M745 1170 L745 1780 M820 1170 L820 1780 M745 1170 L820 1170 M765 1460 L765 1540 L800 1540 L800 1460 Z M782 1540 L782 1760" class="n"/>
<path d="M705 1280 L715 1750 M860 1280 L850 1750" class="h"/>
<ellipse cx="785" cy="1065" rx="365" ry="205" class="w"/>
<path d="M440 1120 Q785 1400 1130 1120" class="n"/>
<path d="M745 862 L750 892 L815 892 L820 862" class="w"/>
<path d="M440 1050 L535 1015 Q555 1020 545 1045 L450 1085 M1130 1050 L1035 1015 Q1015 1020 1025 1045 L1120 1085" class="w"/>
<ellipse cx="785" cy="1000" rx="140" ry="78" class="w"/>
<ellipse cx="785" cy="1010" rx="140" ry="78" class="n"/>
<ellipse cx="785" cy="990" rx="95" ry="50" class="d"/>
<ellipse cx="785" cy="990" rx="55" ry="28" class="n"/>
<ellipse cx="785" cy="990" rx="25" ry="12" class="k"/>
</g>
<path d="M1110.5 1397.6 C1111.5 1397.6 1112.4 1400.3 1112.4 1403.6 L1112.4 1471.8 C1112.4 1475.1 1111.5 1477.8 1110.5 1477.8 C1109.5 1477.8 1108.6 1475.1 1108.6 1471.8 L1108.6 1403.6 C1108.6 1400.3 1109.5 1397.6 1110.5 1397.6 Z" class="n"/>
<path d="M1110.5 1401.6 Q1109.9 1437.7 1110.7 1474.8" class="h"/>
<path d="M1110.7 1399.1 L1110.7 1476.3 M1111.1 1400.1 L1111.1 1475.3" class="h"/>
<path d="M1110.5 1498.6 C1111.5 1498.6 1112.4 1501.3 1112.4 1504.6 L1112.4 1572.8 C1112.4 1576.1 1111.5 1578.8 1110.5 1578.8 C1109.5 1578.8 1108.6 1576.1 1108.6 1572.8 L1108.6 1504.6 C1108.6 1501.3 1109.5 1498.6 1110.5 1498.6 Z" class="n"/>
<path d="M1110.5 1502.6 Q1109.9 1538.7 1110.7 1575.8" class="h"/>
<path d="M1110.7 1500.1 L1110.7 1577.3 M1111.1 1501.1 L1111.1 1576.3" class="h"/>
<ellipse cx="1117.1" cy="1420.1" rx="1.4" ry="3.7" class="n" transform="rotate(-25.6 1117.1 1420.1)"/>
<ellipse cx="1117.2" cy="1420.3" rx="0.7" ry="1.7" class="n" transform="rotate(-25.6 1117.2 1420.3)"/>
<ellipse cx="1117.1" cy="1431.5" rx="1.4" ry="3.7" class="n" transform="rotate(-25.6 1117.1 1431.5)"/>
<ellipse cx="1117.2" cy="1431.7" rx="0.7" ry="1.7" class="n" transform="rotate(-25.6 1117.2 1431.7)"/>
<ellipse cx="1117.1" cy="1442.8" rx="1.4" ry="3.7" class="n" transform="rotate(-25.6 1117.1 1442.8)"/>
<ellipse cx="1117.2" cy="1443" rx="0.7" ry="1.7" class="n" transform="rotate(-25.6 1117.2 1443)"/>
<ellipse cx="1117.1" cy="1454.2" rx="1.4" ry="3.7" class="n" transform="rotate(-25.6 1117.1 1454.2)"/>
<ellipse cx="1117.2" cy="1454.4" rx="0.7" ry="1.7" class="n" transform="rotate(-25.6 1117.2 1454.4)"/>
<ellipse cx="1117.1" cy="1465.6" rx="1.4" ry="3.7" class="n" transform="rotate(-25.6 1117.1 1465.6)"/>
<ellipse cx="1117.2" cy="1465.8" rx="0.7" ry="1.7" class="n" transform="rotate(-25.6 1117.2 1465.8)"/>
<ellipse cx="1117.1" cy="1477" rx="1.4" ry="3.7" class="n" transform="rotate(-25.6 1117.1 1477)"/>
<ellipse cx="1117.2" cy="1477.2" rx="0.7" ry="1.7" class="n" transform="rotate(-25.6 1117.2 1477.2)"/>
<ellipse cx="1117.1" cy="1488.4" rx="1.4" ry="3.7" class="n" transform="rotate(-25.6 1117.1 1488.4)"/>
<ellipse cx="1117.2" cy="1488.6" rx="0.7" ry="1.7" class="n" transform="rotate(-25.6 1117.2 1488.6)"/>
<ellipse cx="1117.1" cy="1522.1" rx="1.4" ry="3.7" transform="rotate(-25.6 1117.1 1522.1)"/>
<ellipse cx="1117.2" cy="1522.3" rx="0.7" ry="1.7" transform="rotate(-25.6 1117.2 1522.3)"/>
<ellipse cx="1117.1" cy="1533.5" rx="1.4" ry="3.7" transform="rotate(-25.6 1117.1 1533.5)"/>
<ellipse cx="1117.2" cy="1533.7" rx="0.7" ry="1.7" transform="rotate(-25.6 1117.2 1533.7)"/>
<ellipse cx="1117.1" cy="1544.8" rx="1.4" ry="3.7" transform="rotate(-25.6 1117.1 1544.8)"/>
<ellipse cx="1117.2" cy="1545" rx="0.7" ry="1.7" transform="rotate(-25.6 1117.2 1545)"/>
<ellipse cx="1117.1" cy="1556.2" rx="1.4" ry="3.7" transform="rotate(-25.6 1117.1 1556.2)"/>
<ellipse cx="1117.2" cy="1556.4" rx="0.7" ry="1.7" transform="rotate(-25.6 1117.2 1556.4)"/>
<ellipse cx="1117.1" cy="1567.6" rx="1.4" ry="3.7" transform="rotate(-25.6 1117.1 1567.6)"/>
<ellipse cx="1117.2" cy="1567.8" rx="0.7" ry="1.7" transform="rotate(-25.6 1117.2 1567.8)"/>
<ellipse cx="1117.1" cy="1579" rx="1.4" ry="3.7" transform="rotate(-25.6 1117.1 1579)"/>
<ellipse cx="1117.2" cy="1579.2" rx="0.7" ry="1.7" transform="rotate(-25.6 1117.2 1579.2)"/>
<ellipse cx="1117.1" cy="1590.4" rx="1.4" ry="3.7" transform="rotate(-25.6 1117.1 1590.4)"/>
<ellipse cx="1117.2" cy="1590.6" rx="0.7" ry="1.7" transform="rotate(-25.6 1117.2 1590.6)"/>
<path d="M1127.9 1429.7 C1130.9 1429.7 1133.3 1432.8 1133.3 1436.5 L1133.3 1503.1 C1133.3 1506.9 1130.9 1509.9 1127.9 1509.9 C1124.9 1509.9 1122.4 1506.9 1122.4 1503.1 L1122.4 1436.5 C1122.4 1432.8 1124.9 1429.7 1127.9 1429.7 Z" class="n"/>
<path d="M1128 1433.7 Q1126.1 1469.8 1128.4 1506.9" class="h"/>
<path d="M1128.5 1431.2 L1128.5 1508.4 M1129.7 1432.2 L1129.7 1507.4" class="h"/>
<path d="M1127.9 1530.7 C1130.9 1530.7 1133.3 1533.8 1133.3 1537.5 L1133.3 1604.1 C1133.3 1607.9 1130.9 1610.9 1127.9 1610.9 C1124.9 1610.9 1122.4 1607.9 1122.4 1604.1 L1122.4 1537.5 C1122.4 1533.8 1124.9 1530.7 1127.9 1530.7 Z" class="n"/>
<path d="M1128 1534.7 Q1126.1 1570.8 1128.4 1607.9" class="h"/>
<path d="M1128.5 1532.2 L1128.5 1609.4 M1129.7 1533.2 L1129.7 1608.4" class="h"/>
<ellipse cx="1142.6" cy="1450.2" rx="2.7" ry="3.7" class="n" transform="rotate(-19.2 1142.6 1450.2)"/>
<ellipse cx="1142.8" cy="1450.4" rx="1.3" ry="1.7" class="n" transform="rotate(-19.2 1142.8 1450.4)"/>
<ellipse cx="1142.6" cy="1461.6" rx="2.7" ry="3.7" class="n" transform="rotate(-19.2 1142.6 1461.6)"/>
<ellipse cx="1142.8" cy="1461.8" rx="1.3" ry="1.7" class="n" transform="rotate(-19.2 1142.8 1461.8)"/>
<ellipse cx="1142.6" cy="1472.9" rx="2.7" ry="3.7" class="n" transform="rotate(-19.2 1142.6 1472.9)"/>
<ellipse cx="1142.8" cy="1473.1" rx="1.3" ry="1.7" class="n" transform="rotate(-19.2 1142.8 1473.1)"/>
<ellipse cx="1142.6" cy="1484.3" rx="2.7" ry="3.7" class="n" transform="rotate(-19.2 1142.6 1484.3)"/>
<ellipse cx="1142.8" cy="1484.5" rx="1.3" ry="1.7" class="n" transform="rotate(-19.2 1142.8 1484.5)"/>
<ellipse cx="1142.6" cy="1495.7" rx="2.7" ry="3.7" class="n" transform="rotate(-19.2 1142.6 1495.7)"/>
<ellipse cx="1142.8" cy="1495.9" rx="1.3" ry="1.7" class="n" transform="rotate(-19.2 1142.8 1495.9)"/>
<ellipse cx="1142.6" cy="1507.1" rx="2.7" ry="3.7" class="n" transform="rotate(-19.2 1142.6 1507.1)"/>
<ellipse cx="1142.8" cy="1507.3" rx="1.3" ry="1.7" class="n" transform="rotate(-19.2 1142.8 1507.3)"/>
<ellipse cx="1142.6" cy="1518.5" rx="2.7" ry="3.7" class="n" transform="rotate(-19.2 1142.6 1518.5)"/>
<ellipse cx="1142.8" cy="1518.7" rx="1.3" ry="1.7" class="n" transform="rotate(-19.2 1142.8 1518.7)"/>
<ellipse cx="1142.6" cy="1552.2" rx="2.7" ry="3.7" transform="rotate(-19.2 1142.6 1552.2)"/>
<ellipse cx="1142.8" cy="1552.4" rx="1.3" ry="1.7" transform="rotate(-19.2 1142.8 1552.4)"/>
<ellipse cx="1142.6" cy="1563.6" rx="2.7" ry="3.7" transform="rotate(-19.2 1142.6 1563.6)"/>
<ellipse cx="1142.8" cy="1563.8" rx="1.3" ry="1.7" transform="rotate(-19.2 1142.8 1563.8)"/>
<ellipse cx="1142.6" cy="1574.9" rx="2.7" ry="3.7" transform="rotate(-19.2 1142.6 1574.9)"/>
<ellipse cx="1142.8" cy="1575.1" rx="1.3" ry="1.7" transform="rotate(-19.2 1142.8 1575.1)"/>
<ellipse cx="1142.6" cy="1586.3" rx="2.7" ry="3.7" transform="rotate(-19.2 1142.6 1586.3)"/>
<ellipse cx="1142.8" cy="1586.5" rx="1.3" ry="1.7" transform="rotate(-19.2 1142.8 1586.5)"/>
<ellipse cx="1142.6" cy="1597.7" rx="2.7" ry="3.7" transform="rotate(-19.2 1142.6 1597.7)"/>
<ellipse cx="1142.8" cy="1597.9" rx="1.3" ry="1.7" transform="rotate(-19.2 1142.8 1597.9)"/>
<ellipse cx="1142.6" cy="1609.1" rx="2.7" ry="3.7" transform="rotate(-19.2 1142.6 1609.1)"/>
<ellipse cx="1142.8" cy="1609.3" rx="1.3" ry="1.7" transform="rotate(-19.2 1142.8 1609.3)"/>
<ellipse cx="1142.6" cy="1620.5" rx="2.7" ry="3.7" transform="rotate(-19.2 1142.6 1620.5)"/>
<ellipse cx="1142.8" cy="1620.7" rx="1.3" ry="1.7" transform="rotate(-19.2 1142.8 1620.7)"/>
<path d="M1160.9 1457.1 C1165.6 1457.1 1169.4 1461.8 1169.4 1467.7 L1169.4 1526.7 C1169.4 1532.5 1165.6 1537.3 1160.9 1537.3 C1156.2 1537.3 1152.4 1532.5 1152.4 1526.7 L1152.4 1467.7 C1152.4 1461.8 1156.2 1457.1 1160.9 1457.1 Z" class="n"/>
<path d="M1161 1461.1 Q1158.1 1497.2 1161.7 1534.3" class="h"/>
<path d="M1161.9 1458.6 L1161.9 1535.8 M1163.8 1459.6 L1163.8 1534.8" class="h"/>
<path d="M1160.9 1558.1 C1165.6 1558.1 1169.4 1562.8 1169.4 1568.7 L1169.4 1627.7 C1169.4 1633.5 1165.6 1638.3 1160.9 1638.3 C1156.2 1638.3 1152.4 1633.5 1152.4 1627.7 L1152.4 1568.7 C1152.4 1562.8 1156.2 1558.1 1160.9 1558.1 Z" class="n"/>
<path d="M1161 1562.1 Q1158.1 1598.2 1161.7 1635.3" class="h"/>
<path d="M1161.9 1559.6 L1161.9 1636.8 M1163.8 1560.6 L1163.8 1635.8" class="h"/>
<ellipse cx="1182.3" cy="1474.1" rx="3.7" ry="3.7" class="n" transform="rotate(-12.8 1182.3 1474.1)"/>
<ellipse cx="1182.5" cy="1474.3" rx="1.8" ry="1.7" class="n" transform="rotate(-12.8 1182.5 1474.3)"/>
<ellipse cx="1182.3" cy="1485.5" rx="3.7" ry="3.7" class="n" transform="rotate(-12.8 1182.3 1485.5)"/>
<ellipse cx="1182.5" cy="1485.7" rx="1.8" ry="1.7" class="n" transform="rotate(-12.8 1182.5 1485.7)"/>
<ellipse cx="1182.3" cy="1496.8" rx="3.7" ry="3.7" class="n" transform="rotate(-12.8 1182.3 1496.8)"/>
<ellipse cx="1182.5" cy="1497" rx="1.8" ry="1.7" class="n" transform="rotate(-12.8 1182.5 1497)"/>
<ellipse cx="1182.3" cy="1508.2" rx="3.7" ry="3.7" class="n" transform="rotate(-12.8 1182.3 1508.2)"/>
<ellipse cx="1182.5" cy="1508.4" rx="1.8" ry="1.7" class="n" transform="rotate(-12.8 1182.5 1508.4)"/>
<ellipse cx="1182.3" cy="1519.6" rx="3.7" ry="3.7" class="n" transform="rotate(-12.8 1182.3 1519.6)"/>
<ellipse cx="1182.5" cy="1519.8" rx="1.8" ry="1.7" class="n" transform="rotate(-12.8 1182.5 1519.8)"/>
<ellipse cx="1182.3" cy="1531" rx="3.7" ry="3.7" class="n" transform="rotate(-12.8 1182.3 1531)"/>
<ellipse cx="1182.5" cy="1531.2" rx="1.8" ry="1.7" class="n" transform="rotate(-12.8 1182.5 1531.2)"/>
<ellipse cx="1182.3" cy="1542.4" rx="3.7" ry="3.7" class="n" transform="rotate(-12.8 1182.3 1542.4)"/>
<ellipse cx="1182.5" cy="1542.6" rx="1.8" ry="1.7" class="n" transform="rotate(-12.8 1182.5 1542.6)"/>
<ellipse cx="1182.3" cy="1576.1" rx="3.7" ry="3.7" transform="rotate(-12.8 1182.3 1576.1)"/>
<ellipse cx="1182.5" cy="1576.3" rx="1.8" ry="1.7" transform="rotate(-12.8 1182.5 1576.3)"/>
<ellipse cx="1182.3" cy="1587.5" rx="3.7" ry="3.7" transform="rotate(-12.8 1182.3 1587.5)"/>
<ellipse cx="1182.5" cy="1587.7" rx="1.8" ry="1.7" transform="rotate(-12.8 1182.5 1587.7)"/>
<ellipse cx="1182.3" cy="1598.8" rx="3.7" ry="3.7" transform="rotate(-12.8 1182.3 1598.8)"/>
<ellipse cx="1182.5" cy="1599" rx="1.8" ry="1.7" transform="rotate(-12.8 1182.5 1599)"/>
<ellipse cx="1182.3" cy="1610.2" rx="3.7" ry="3.7" transform="rotate(-12.8 1182.3 1610.2)"/>
<ellipse cx="1182.5" cy="1610.4" rx="1.8" ry="1.7" transform="rotate(-12.8 1182.5 1610.4)"/>
<ellipse cx="1182.3" cy="1621.6" rx="3.7" ry="3.7" transform="rotate(-12.8 1182.3 1621.6)"/>
<ellipse cx="1182.5" cy="1621.8" rx="1.8" ry="1.7" transform="rotate(-12.8 1182.5 1621.8)"/>
<ellipse cx="1182.3" cy="1633" rx="3.7" ry="3.7" transform="rotate(-12.8 1182.3 1633)"/>
<ellipse cx="1182.5" cy="1633.2" rx="1.8" ry="1.7" transform="rotate(-12.8 1182.5 1633.2)"/>
<ellipse cx="1182.3" cy="1644.4" rx="3.7" ry="3.7" transform="rotate(-12.8 1182.3 1644.4)"/>
<ellipse cx="1182.5" cy="1644.6" rx="1.8" ry="1.7" transform="rotate(-12.8 1182.5 1644.6)"/>
<path d="M1206.3 1476.9 C1212.2 1476.9 1217 1482.9 1217 1490.3 L1217 1543.8 C1217 1551.1 1212.2 1557.1 1206.3 1557.1 C1200.4 1557.1 1195.6 1551.1 1195.6 1543.8 L1195.6 1490.3 C1195.6 1482.9 1200.4 1476.9 1206.3 1476.9 Z" class="n"/>
<path d="M1206.5 1480.9 Q1202.8 1517 1207.4 1554.1" class="h"/>
<path d="M1207.6 1478.4 L1207.6 1555.6 M1209.9 1479.4 L1209.9 1554.6" class="h"/>
<path d="M1206.3 1577.9 C1212.2 1577.9 1217 1583.9 1217 1591.3 L1217 1644.8 C1217 1652.1 1212.2 1658.1 1206.3 1658.1 C1200.4 1658.1 1195.6 1652.1 1195.6 1644.8 L1195.6 1591.3 C1195.6 1583.9 1200.4 1577.9 1206.3 1577.9 Z" class="n"/>
<path d="M1206.5 1581.9 Q1202.8 1618 1207.4 1655.1" class="h"/>
<path d="M1207.6 1579.4 L1207.6 1656.6 M1209.9 1580.4 L1209.9 1655.6" class="h"/>
<ellipse cx="1232.3" cy="1489.4" rx="4.4" ry="3.7" class="n" transform="rotate(-6.4 1232.3 1489.4)"/>
<ellipse cx="1232.6" cy="1489.6" rx="2.1" ry="1.7" class="n" transform="rotate(-6.4 1232.6 1489.6)"/>
<ellipse cx="1232.3" cy="1500.8" rx="4.4" ry="3.7" class="n" transform="rotate(-6.4 1232.3 1500.8)"/>
<ellipse cx="1232.6" cy="1501" rx="2.1" ry="1.7" class="n" transform="rotate(-6.4 1232.6 1501)"/>
<ellipse cx="1232.3" cy="1512.2" rx="4.4" ry="3.7" class="n" transform="rotate(-6.4 1232.3 1512.2)"/>
<ellipse cx="1232.6" cy="1512.4" rx="2.1" ry="1.7" class="n" transform="rotate(-6.4 1232.6 1512.4)"/>
<ellipse cx="1232.3" cy="1523.6" rx="4.4" ry="3.7" class="n" transform="rotate(-6.4 1232.3 1523.6)"/>
<ellipse cx="1232.6" cy="1523.8" rx="2.1" ry="1.7" class="n" transform="rotate(-6.4 1232.6 1523.8)"/>
<ellipse cx="1232.3" cy="1534.9" rx="4.4" ry="3.7" class="n" transform="rotate(-6.4 1232.3 1534.9)"/>
<ellipse cx="1232.6" cy="1535.1" rx="2.1" ry="1.7" class="n" transform="rotate(-6.4 1232.6 1535.1)"/>
<ellipse cx="1232.3" cy="1546.3" rx="4.4" ry="3.7" class="n" transform="rotate(-6.4 1232.3 1546.3)"/>
<ellipse cx="1232.6" cy="1546.5" rx="2.1" ry="1.7" class="n" transform="rotate(-6.4 1232.6 1546.5)"/>
<ellipse cx="1232.3" cy="1557.7" rx="4.4" ry="3.7" class="n" transform="rotate(-6.4 1232.3 1557.7)"/>
<ellipse cx="1232.6" cy="1557.9" rx="2.1" ry="1.7" class="n" transform="rotate(-6.4 1232.6 1557.9)"/>
<ellipse cx="1232.3" cy="1591.4" rx="4.4" ry="3.7" transform="rotate(-6.4 1232.3 1591.4)"/>
<ellipse cx="1232.6" cy="1591.6" rx="2.1" ry="1.7" transform="rotate(-6.4 1232.6 1591.6)"/>
<ellipse cx="1232.3" cy="1602.8" rx="4.4" ry="3.7" transform="rotate(-6.4 1232.3 1602.8)"/>
<ellipse cx="1232.6" cy="1603" rx="2.1" ry="1.7" transform="rotate(-6.4 1232.6 1603)"/>
<ellipse cx="1232.3" cy="1614.2" rx="4.4" ry="3.7" transform="rotate(-6.4 1232.3 1614.2)"/>
<ellipse cx="1232.6" cy="1614.4" rx="2.1" ry="1.7" transform="rotate(-6.4 1232.6 1614.4)"/>
<ellipse cx="1232.3" cy="1625.6" rx="4.4" ry="3.7" transform="rotate(-6.4 1232.3 1625.6)"/>
<ellipse cx="1232.6" cy="1625.8" rx="2.1" ry="1.7" transform="rotate(-6.4 1232.6 1625.8)"/>
<ellipse cx="1232.3" cy="1636.9" rx="4.4" ry="3.7" transform="rotate(-6.4 1232.3 1636.9)"/>
<ellipse cx="1232.6" cy="1637.1" rx="2.1" ry="1.7" transform="rotate(-6.4 1232.6 1637.1)"/>
<ellipse cx="1232.3" cy="1648.3" rx="4.4" ry="3.7" transform="rotate(-6.4 1232.3 1648.3)"/>
<ellipse cx="1232.6" cy="1648.5" rx="2.1" ry="1.7" transform="rotate(-6.4 1232.6 1648.5)"/>
<ellipse cx="1232.3" cy="1659.7" rx="4.4" ry="3.7" transform="rotate(-6.4 1232.3 1659.7)"/>
<ellipse cx="1232.6" cy="1659.9" rx="2.1" ry="1.7" transform="rotate(-6.4 1232.6 1659.9)"/>
<path d="M1259.7 1487.4 C1266.3 1487.4 1271.6 1494 1271.6 1502.2 L1271.6 1552.8 C1271.6 1560.9 1266.3 1567.6 1259.7 1567.6 C1253.2 1567.6 1247.9 1560.9 1247.9 1552.8 L1247.9 1502.2 C1247.9 1494 1253.2 1487.4 1259.7 1487.4 Z" class="n"/>
<path d="M1260 1491.4 Q1255.8 1527.5 1260.9 1564.6" class="h"/>
<path d="M1261.1 1488.9 L1261.1 1566.1 M1263.7 1489.9 L1263.7 1565.1" class="h"/>
<path d="M1259.7 1588.4 C1266.3 1588.4 1271.6 1595 1271.6 1603.2 L1271.6 1653.8 C1271.6 1661.9 1266.3 1668.6 1259.7 1668.6 C1253.2 1668.6 1247.9 1661.9 1247.9 1653.8 L1247.9 1603.2 C1247.9 1595 1253.2 1588.4 1259.7 1588.4 Z" class="n"/>
<path d="M1260 1592.4 Q1255.8 1628.5 1260.9 1665.6" class="h"/>
<path d="M1261.1 1589.9 L1261.1 1667.1 M1263.7 1590.9 L1263.7 1666.1" class="h"/>
<ellipse cx="1287.8" cy="1494.7" rx="4.6" ry="3.7" class="n"/>
<ellipse cx="1288.1" cy="1494.9" rx="2.2" ry="1.7" class="n"/>
<ellipse cx="1287.8" cy="1506.1" rx="4.6" ry="3.7" class="n"/>
<ellipse cx="1288.1" cy="1506.3" rx="2.2" ry="1.7" class="n"/>
<ellipse cx="1287.8" cy="1517.5" rx="4.6" ry="3.7" class="n"/>
<ellipse cx="1288.1" cy="1517.7" rx="2.2" ry="1.7" class="n"/>
<ellipse cx="1287.8" cy="1528.8" rx="4.6" ry="3.7" class="n"/>
<ellipse cx="1288.1" cy="1529" rx="2.2" ry="1.7" class="n"/>
<ellipse cx="1287.8" cy="1540.2" rx="4.6" ry="3.7" class="n"/>
<ellipse cx="1288.1" cy="1540.4" rx="2.2" ry="1.7" class="n"/>
<ellipse cx="1287.8" cy="1551.6" rx="4.6" ry="3.7" class="n"/>
<ellipse cx="1288.1" cy="1551.8" rx="2.2" ry="1.7" class="n"/>
<ellipse cx="1287.8" cy="1563" rx="4.6" ry="3.7" class="n"/>
<ellipse cx="1288.1" cy="1563.2" rx="2.2" ry="1.7" class="n"/>
<ellipse cx="1287.8" cy="1596.7" rx="4.6" ry="3.7"/>
<ellipse cx="1288.1" cy="1596.9" rx="2.2" ry="1.7"/>
<ellipse cx="1287.8" cy="1608.1" rx="4.6" ry="3.7"/>
<ellipse cx="1288.1" cy="1608.3" rx="2.2" ry="1.7"/>
<ellipse cx="1287.8" cy="1619.5" rx="4.6" ry="3.7"/>
<ellipse cx="1288.1" cy="1619.7" rx="2.2" ry="1.7"/>
<ellipse cx="1287.8" cy="1630.8" rx="4.6" ry="3.7"/>
<ellipse cx="1288.1" cy="1631" rx="2.2" ry="1.7"/>
<ellipse cx="1287.8" cy="1642.2" rx="4.6" ry="3.7"/>
<ellipse cx="1288.1" cy="1642.4" rx="2.2" ry="1.7"/>
<ellipse cx="1287.8" cy="1653.6" rx="4.6" ry="3.7"/>
<ellipse cx="1288.1" cy="1653.8" rx="2.2" ry="1.7"/>
<ellipse cx="1287.8" cy="1665" rx="4.6" ry="3.7"/>
<ellipse cx="1288.1" cy="1665.2" rx="2.2" ry="1.7"/>
<path d="M1315.9 1487.4 C1322.4 1487.4 1327.7 1494 1327.7 1502.2 L1327.7 1552.8 C1327.7 1560.9 1322.4 1567.6 1315.9 1567.6 C1309.3 1567.6 1304 1560.9 1304 1552.8 L1304 1502.2 C1304 1494 1309.3 1487.4 1315.9 1487.4 Z" class="n"/>
<path d="M1313.3 1491.4 Q1309.1 1527.5 1314.2 1564.6" class="h"/>
<path d="M1314.5 1488.9 L1314.5 1566.1 M1317.1 1489.9 L1317.1 1565.1" class="h"/>
<path d="M1315.9 1588.4 C1322.4 1588.4 1327.7 1595 1327.7 1603.2 L1327.7 1653.8 C1327.7 1661.9 1322.4 1668.6 1315.9 1668.6 C1309.3 1668.6 1304 1661.9 1304 1653.8 L1304 1603.2 C1304 1595 1309.3 1588.4 1315.9 1588.4 Z" class="n"/>
<path d="M1313.3 1592.4 Q1309.1 1628.5 1314.2 1665.6" class="h"/>
<path d="M1314.5 1589.9 L1314.5 1667.1 M1317.1 1590.9 L1317.1 1666.1" class="h"/>
<ellipse cx="1343.3" cy="1489.4" rx="4.4" ry="3.7" class="n" transform="rotate(6.4 1343.3 1489.4)"/>
<ellipse cx="1343.6" cy="1489.6" rx="2.1" ry="1.7" class="n" transform="rotate(6.4 1343.6 1489.6)"/>
<ellipse cx="1343.3" cy="1500.8" rx="4.4" ry="3.7" class="n" transform="rotate(6.4 1343.3 1500.8)"/>
<ellipse cx="1343.6" cy="1501" rx="2.1" ry="1.7" class="n" transform="rotate(6.4 1343.6 1501)"/>
<ellipse cx="1343.3" cy="1512.2" rx="4.4" ry="3.7" class="n" transform="rotate(6.4 1343.3 1512.2)"/>
<ellipse cx="1343.6" cy="1512.4" rx="2.1" ry="1.7" class="n" transform="rotate(6.4 1343.6 1512.4)"/>
<ellipse cx="1343.3" cy="1523.6" rx="4.4" ry="3.7" class="n" transform="rotate(6.4 1343.3 1523.6)"/>
<ellipse cx="1343.6" cy="1523.8" rx="2.1" ry="1.7" class="n" transform="rotate(6.4 1343.6 1523.8)"/>
<ellipse cx="1343.3" cy="1534.9" rx="4.4" ry="3.7" class="n" transform="rotate(6.4 1343.3 1534.9)"/>
<ellipse cx="1343.6" cy="1535.1" rx="2.1" ry="1.7" class="n" transform="rotate(6.4 1343.6 1535.1)"/>
<ellipse cx="1343.3" cy="1546.3" rx="4.4" ry="3.7" class="n" transform="rotate(6.4 1343.3 1546.3)"/>
<ellipse cx="1343.6" cy="1546.5" rx="2.1" ry="1.7" class="n" transform="rotate(6.4 1343.6 1546.5)"/>
<ellipse cx="1343.3" cy="1557.7" rx="4.4" ry="3.7" class="n" transform="rotate(6.4 1343.3 1557.7)"/>
<ellipse cx="1343.6" cy="1557.9" rx="2.1" ry="1.7" class="n" transform="rotate(6.4 1343.6 1557.9)"/>
<ellipse cx="1343.3" cy="1591.4" rx="4.4" ry="3.7" transform="rotate(6.4 1343.3 1591.4)"/>
<ellipse cx="1343.6" cy="1591.6" rx="2.1" ry="1.7" transform="rotate(6.4 1343.6 1591.6)"/>
<ellipse cx="1343.3" cy="1602.8" rx="4.4" ry="3.7" transform="rotate(6.4 1343.3 1602.8)"/>
<ellipse cx="1343.6" cy="1603" rx="2.1" ry="1.7" transform="rotate(6.4 1343.6 1603)"/>
<ellipse cx="1343.3" cy="1614.2" rx="4.4" ry="3.7" transform="rotate(6.4 1343.3 1614.2)"/>
<ellipse cx="1343.6" cy="1614.4" rx="2.1" ry="1.7" transform="rotate(6.4 1343.6 1614.4)"/>
<ellipse cx="1343.3" cy="1625.6" rx="4.4" ry="3.7" transform="rotate(6.4 1343.3 1625.6)"/>
<ellipse cx="1343.6" cy="1625.8" rx="2.1" ry="1.7" transform="rotate(6.4 1343.6 1625.8)"/>
<ellipse cx="1343.3" cy="1636.9" rx="4.4" ry="3.7" transform="rotate(6.4 1343.3 1636.9)"/>
<ellipse cx="1343.6" cy="1637.1" rx="2.1" ry="1.7" transform="rotate(6.4 1343.6 1637.1)"/>
<ellipse cx="1343.3" cy="1648.3" rx="4.4" ry="3.7" transform="rotate(6.4 1343.3 1648.3)"/>
<ellipse cx="1343.6" cy="1648.5" rx="2.1" ry="1.7" transform="rotate(6.4 1343.6 1648.5)"/>
<ellipse cx="1343.3" cy="1659.7" rx="4.4" ry="3.7" transform="rotate(6.4 1343.3 1659.7)"/>
<ellipse cx="1343.6" cy="1659.9" rx="2.1" ry="1.7" transform="rotate(6.4 1343.6 1659.9)"/>
<path d="M1369.3 1476.9 C1375.2 1476.9 1380 1482.9 1380 1490.3 L1380 1543.8 C1380 1551.1 1375.2 1557.1 1369.3 1557.1 C1363.4 1557.1 1358.6 1551.1 1358.6 1543.8 L1358.6 1490.3 C1358.6 1482.9 1363.4 1476.9 1369.3 1476.9 Z" class="n"/>
<path d="M1366.9 1480.9 Q1363.2 1517 1367.8 1554.1" class="h"/>
<path d="M1368 1478.4 L1368 1555.6 M1370.4 1479.4 L1370.4 1554.6" class="h"/>
<path d="M1369.3 1577.9 C1375.2 1577.9 1380 1583.9 1380 1591.3 L1380 1644.8 C1380 1652.1 1375.2 1658.1 1369.3 1658.1 C1363.4 1658.1 1358.6 1652.1 1358.6 1644.8 L1358.6 1591.3 C1358.6 1583.9 1363.4 1577.9 1369.3 1577.9 Z" class="n"/>
<path d="M1366.9 1581.9 Q1363.2 1618 1367.8 1655.1" class="h"/>
<path d="M1368 1579.4 L1368 1656.6 M1370.4 1580.4 L1370.4 1655.6" class="h"/>
<ellipse cx="1393.3" cy="1474.1" rx="3.7" ry="3.7" class="n" transform="rotate(12.8 1393.3 1474.1)"/>
<ellipse cx="1393.6" cy="1474.3" rx="1.8" ry="1.7" class="n" transform="rotate(12.8 1393.6 1474.3)"/>
<ellipse cx="1393.3" cy="1485.5" rx="3.7" ry="3.7" class="n" transform="rotate(12.8 1393.3 1485.5)"/>
<ellipse cx="1393.6" cy="1485.7" rx="1.8" ry="1.7" class="n" transform="rotate(12.8 1393.6 1485.7)"/>
<ellipse cx="1393.3" cy="1496.8" rx="3.7" ry="3.7" class="n" transform="rotate(12.8 1393.3 1496.8)"/>
<ellipse cx="1393.6" cy="1497" rx="1.8" ry="1.7" class="n" transform="rotate(12.8 1393.6 1497)"/>
<ellipse cx="1393.3" cy="1508.2" rx="3.7" ry="3.7" class="n" transform="rotate(12.8 1393.3 1508.2)"/>
<ellipse cx="1393.6" cy="1508.4" rx="1.8" ry="1.7" class="n" transform="rotate(12.8 1393.6 1508.4)"/>
<ellipse cx="1393.3" cy="1519.6" rx="3.7" ry="3.7" class="n" transform="rotate(12.8 1393.3 1519.6)"/>
<ellipse cx="1393.6" cy="1519.8" rx="1.8" ry="1.7" class="n" transform="rotate(12.8 1393.6 1519.8)"/>
<ellipse cx="1393.3" cy="1531" rx="3.7" ry="3.7" class="n" transform="rotate(12.8 1393.3 1531)"/>
<ellipse cx="1393.6" cy="1531.2" rx="1.8" ry="1.7" class="n" transform="rotate(12.8 1393.6 1531.2)"/>
<ellipse cx="1393.3" cy="1542.4" rx="3.7" ry="3.7" class="n" transform="rotate(12.8 1393.3 1542.4)"/>
<ellipse cx="1393.6" cy="1542.6" rx="1.8" ry="1.7" class="n" transform="rotate(12.8 1393.6 1542.6)"/>
<ellipse cx="1393.3" cy="1576.1" rx="3.7" ry="3.7" transform="rotate(12.8 1393.3 1576.1)"/>
<ellipse cx="1393.6" cy="1576.3" rx="1.8" ry="1.7" transform="rotate(12.8 1393.6 1576.3)"/>
<ellipse cx="1393.3" cy="1587.5" rx="3.7" ry="3.7" transform="rotate(12.8 1393.3 1587.5)"/>
<ellipse cx="1393.6" cy="1587.7" rx="1.8" ry="1.7" transform="rotate(12.8 1393.6 1587.7)"/>
<ellipse cx="1393.3" cy="1598.8" rx="3.7" ry="3.7" transform="rotate(12.8 1393.3 1598.8)"/>
<ellipse cx="1393.6" cy="1599" rx="1.8" ry="1.7" transform="rotate(12.8 1393.6 1599)"/>
<ellipse cx="1393.3" cy="1610.2" rx="3.7" ry="3.7" transform="rotate(12.8 1393.3 1610.2)"/>
<ellipse cx="1393.6" cy="1610.4" rx="1.8" ry="1.7" transform="rotate(12.8 1393.6 1610.4)"/>
<ellipse cx="1393.3" cy="1621.6" rx="3.7" ry="3.7" transform="rotate(12.8 1393.3 1621.6)"/>
<ellipse cx="1393.6" cy="1621.8" rx="1.8" ry="1.7" transform="rotate(12.8 1393.6 1621.8)"/>
<ellipse cx="1393.3" cy="1633" rx="3.7" ry="3.7" transform="rotate(12.8 1393.3 1633)"/>
<ellipse cx="1393.6" cy="1633.2" rx="1.8" ry="1.7" transform="rotate(12.8 1393.6 1633.2)"/>
<ellipse cx="1393.3" cy="1644.4" rx="3.7" ry="3.7" transform="rotate(12.8 1393.3 1644.4)"/>
<ellipse cx="1393.6" cy="1644.6" rx="1.8" ry="1.7" transform="rotate(12.8 1393.6 1644.6)"/>
<path d="M1414.7 1457.1 C1419.4 1457.1 1423.2 1461.8 1423.2 1467.7 L1423.2 1526.7 C1423.2 1532.5 1419.4 1537.3 1414.7 1537.3 C1410 1537.3 1406.2 1532.5 1406.2 1526.7 L1406.2 1467.7 C1406.2 1461.8 1410 1457.1 1414.7 1457.1 Z" class="n"/>
<path d="M1412.9 1461.1 Q1409.9 1497.2 1413.5 1534.3" class="h"/>
<path d="M1413.7 1458.6 L1413.7 1535.8 M1415.6 1459.6 L1415.6 1534.8" class="h"/>
<path d="M1414.7 1558.1 C1419.4 1558.1 1423.2 1562.8 1423.2 1568.7 L1423.2 1627.7 C1423.2 1633.5 1419.4 1638.3 1414.7 1638.3 C1410 1638.3 1406.2 1633.5 1406.2 1627.7 L1406.2 1568.7 C1406.2 1562.8 1410 1558.1 1414.7 1558.1 Z" class="n"/>
<path d="M1412.9 1562.1 Q1409.9 1598.2 1413.5 1635.3" class="h"/>
<path d="M1413.7 1559.6 L1413.7 1636.8 M1415.6 1560.6 L1415.6 1635.8" class="h"/>
<ellipse cx="1433" cy="1450.2" rx="2.7" ry="3.7" class="n" transform="rotate(19.2 1433 1450.2)"/>
<ellipse cx="1433.2" cy="1450.4" rx="1.3" ry="1.7" class="n" transform="rotate(19.2 1433.2 1450.4)"/>
<ellipse cx="1433" cy="1461.6" rx="2.7" ry="3.7" class="n" transform="rotate(19.2 1433 1461.6)"/>
<ellipse cx="1433.2" cy="1461.8" rx="1.3" ry="1.7" class="n" transform="rotate(19.2 1433.2 1461.8)"/>
<ellipse cx="1433" cy="1472.9" rx="2.7" ry="3.7" class="n" transform="rotate(19.2 1433 1472.9)"/>
<ellipse cx="1433.2" cy="1473.1" rx="1.3" ry="1.7" class="n" transform="rotate(19.2 1433.2 1473.1)"/>
<ellipse cx="1433" cy="1484.3" rx="2.7" ry="3.7" class="n" transform="rotate(19.2 1433 1484.3)"/>
<ellipse cx="1433.2" cy="1484.5" rx="1.3" ry="1.7" class="n" transform="rotate(19.2 1433.2 1484.5)"/>
<ellipse cx="1433" cy="1495.7" rx="2.7" ry="3.7" class="n" transform="rotate(19.2 1433 1495.7)"/>
<ellipse cx="1433.2" cy="1495.9" rx="1.3" ry="1.7" class="n" transform="rotate(19.2 1433.2 1495.9)"/>
<ellipse cx="1433" cy="1507.1" rx="2.7" ry="3.7" class="n" transform="rotate(19.2 1433 1507.1)"/>
<ellipse cx="1433.2" cy="1507.3" rx="1.3" ry="1.7" class="n" transform="rotate(19.2 1433.2 1507.3)"/>
<ellipse cx="1433" cy="1518.5" rx="2.7" ry="3.7" class="n" transform="rotate(19.2 1433 1518.5)"/>
<ellipse cx="1433.2" cy="1518.7" rx="1.3" ry="1.7" class="n" transform="rotate(19.2 1433.2 1518.7)"/>
<ellipse cx="1433" cy="1552.2" rx="2.7" ry="3.7" transform="rotate(19.2 1433 1552.2)"/>
<ellipse cx="1433.2" cy="1552.4" rx="1.3" ry="1.7" transform="rotate(19.2 1433.2 1552.4)"/>
<ellipse cx="1433" cy="1563.6" rx="2.7" ry="3.7" transform="rotate(19.2 1433 1563.6)"/>
<ellipse cx="1433.2" cy="1563.8" rx="1.3" ry="1.7" transform="rotate(19.2 1433.2 1563.8)"/>
<ellipse cx="1433" cy="1574.9" rx="2.7" ry="3.7" transform="rotate(19.2 1433 1574.9)"/>
<ellipse cx="1433.2" cy="1575.1" rx="1.3" ry="1.7" transform="rotate(19.2 1433.2 1575.1)"/>
<ellipse cx="1433" cy="1586.3" rx="2.7" ry="3.7" transform="rotate(19.2 1433 1586.3)"/>
<ellipse cx="1433.2" cy="1586.5" rx="1.3" ry="1.7" transform="rotate(19.2 1433.2 1586.5)"/>
<ellipse cx="1433" cy="1597.7" rx="2.7" ry="3.7" transform="rotate(19.2 1433 1597.7)"/>
<ellipse cx="1433.2" cy="1597.9" rx="1.3" ry="1.7" transform="rotate(19.2 1433.2 1597.9)"/>
<ellipse cx="1433" cy="1609.1" rx="2.7" ry="3.7" transform="rotate(19.2 1433 1609.1)"/>
<ellipse cx="1433.2" cy="1609.3" rx="1.3" ry="1.7" transform="rotate(19.2 1433.2 1609.3)"/>
<ellipse cx="1433" cy="1620.5" rx="2.7" ry="3.7" transform="rotate(19.2 1433 1620.5)"/>
<ellipse cx="1433.2" cy="1620.7" rx="1.3" ry="1.7" transform="rotate(19.2 1433.2 1620.7)"/>
<path d="M1447.7 1429.7 C1450.7 1429.7 1453.2 1432.8 1453.2 1436.5 L1453.2 1503.1 C1453.2 1506.9 1450.7 1509.9 1447.7 1509.9 C1444.7 1509.9 1442.3 1506.9 1442.3 1503.1 L1442.3 1436.5 C1442.3 1432.8 1444.7 1429.7 1447.7 1429.7 Z" class="n"/>
<path d="M1446.5 1433.7 Q1444.6 1469.8 1447 1506.9" class="h"/>
<path d="M1447.1 1431.2 L1447.1 1508.4 M1448.3 1432.2 L1448.3 1507.4" class="h"/>
<path d="M1447.7 1530.7 C1450.7 1530.7 1453.2 1533.8 1453.2 1537.5 L1453.2 1604.1 C1453.2 1607.9 1450.7 1610.9 1447.7 1610.9 C1444.7 1610.9 1442.3 1607.9 1442.3 1604.1 L1442.3 1537.5 C1442.3 1533.8 1444.7 1530.7 1447.7 1530.7 Z" class="n"/>
<path d="M1446.5 1534.7 Q1444.6 1570.8 1447 1607.9" class="h"/>
<path d="M1447.1 1532.2 L1447.1 1609.4 M1448.3 1533.2 L1448.3 1608.4" class="h"/>
<ellipse cx="1458.5" cy="1420.1" rx="1.4" ry="3.7" class="n" transform="rotate(25.6 1458.5 1420.1)"/>
<ellipse cx="1458.6" cy="1420.3" rx="0.7" ry="1.7" class="n" transform="rotate(25.6 1458.6 1420.3)"/>
<ellipse cx="1458.5" cy="1431.5" rx="1.4" ry="3.7" class="n" transform="rotate(25.6 1458.5 1431.5)"/>
<ellipse cx="1458.6" cy="1431.7" rx="0.7" ry="1.7" class="n" transform="rotate(25.6 1458.6 1431.7)"/>
<ellipse cx="1458.5" cy="1442.8" rx="1.4" ry="3.7" class="n" transform="rotate(25.6 1458.5 1442.8)"/>
<ellipse cx="1458.6" cy="1443" rx="0.7" ry="1.7" class="n" transform="rotate(25.6 1458.6 1443)"/>
<ellipse cx="1458.5" cy="1454.2" rx="1.4" ry="3.7" class="n" transform="rotate(25.6 1458.5 1454.2)"/>
<ellipse cx="1458.6" cy="1454.4" rx="0.7" ry="1.7" class="n" transform="rotate(25.6 1458.6 1454.4)"/>
<ellipse cx="1458.5" cy="1465.6" rx="1.4" ry="3.7" class="n" transform="rotate(25.6 1458.5 1465.6)"/>
<ellipse cx="1458.6" cy="1465.8" rx="0.7" ry="1.7" class="n" transform="rotate(25.6 1458.6 1465.8)"/>
<ellipse cx="1458.5" cy="1477" rx="1.4" ry="3.7" class="n" transform="rotate(25.6 1458.5 1477)"/>
<ellipse cx="1458.6" cy="1477.2" rx="0.7" ry="1.7" class="n" transform="rotate(25.6 1458.6 1477.2)"/>
<ellipse cx="1458.5" cy="1488.4" rx="1.4" ry="3.7" class="n" transform="rotate(25.6 1458.5 1488.4)"/>
<ellipse cx="1458.6" cy="1488.6" rx="0.7" ry="1.7" class="n" transform="rotate(25.6 1458.6 1488.6)"/>
<ellipse cx="1458.5" cy="1522.1" rx="1.4" ry="3.7" transform="rotate(25.6 1458.5 1522.1)"/>
<ellipse cx="1458.6" cy="1522.3" rx="0.7" ry="1.7" transform="rotate(25.6 1458.6 1522.3)"/>
<ellipse cx="1458.5" cy="1533.5" rx="1.4" ry="3.7" transform="rotate(25.6 1458.5 1533.5)"/>
<ellipse cx="1458.6" cy="1533.7" rx="0.7" ry="1.7" transform="rotate(25.6 1458.6 1533.7)"/>
<ellipse cx="1458.5" cy="1544.8" rx="1.4" ry="3.7" transform="rotate(25.6 1458.5 1544.8)"/>
<ellipse cx="1458.6" cy="1545" rx="0.7" ry="1.7" transform="rotate(25.6 1458.6 1545)"/>
<ellipse cx="1458.5" cy="1556.2" rx="1.4" ry="3.7" transform="rotate(25.6 1458.5 1556.2)"/>
<ellipse cx="1458.6" cy="1556.4" rx="0.7" ry="1.7" transform="rotate(25.6 1458.6 1556.4)"/>
<ellipse cx="1458.5" cy="1567.6" rx="1.4" ry="3.7" transform="rotate(25.6 1458.5 1567.6)"/>
<ellipse cx="1458.6" cy="1567.8" rx="0.7" ry="1.7" transform="rotate(25.6 1458.6 1567.8)"/>
<ellipse cx="1458.5" cy="1579" rx="1.4" ry="3.7" transform="rotate(25.6 1458.5 1579)"/>
<ellipse cx="1458.6" cy="1579.2" rx="0.7" ry="1.7" transform="rotate(25.6 1458.6 1579.2)"/>
<ellipse cx="1458.5" cy="1590.4" rx="1.4" ry="3.7" transform="rotate(25.6 1458.5 1590.4)"/>
<ellipse cx="1458.6" cy="1590.6" rx="0.7" ry="1.7" transform="rotate(25.6 1458.6 1590.6)"/>
<path d="M1465.1 1397.6 C1466.1 1397.6 1467 1400.3 1467 1403.6 L1467 1471.8 C1467 1475.1 1466.1 1477.8 1465.1 1477.8 C1464.1 1477.8 1463.2 1475.1 1463.2 1471.8 L1463.2 1403.6 C1463.2 1400.3 1464.1 1397.6 1465.1 1397.6 Z" class="n"/>
<path d="M1464.7 1401.6 Q1464 1437.7 1464.8 1474.8" class="h"/>
<path d="M1464.9 1399.1 L1464.9 1476.3 M1465.3 1400.1 L1465.3 1475.3" class="h"/>
<path d="M1465.1 1498.6 C1466.1 1498.6 1467 1501.3 1467 1504.6 L1467 1572.8 C1467 1576.1 1466.1 1578.8 1465.1 1578.8 C1464.1 1578.8 1463.2 1576.1 1463.2 1572.8 L1463.2 1504.6 C1463.2 1501.3 1464.1 1498.6 1465.1 1498.6 Z" class="n"/>
<path d="M1464.7 1502.6 Q1464 1538.7 1464.8 1575.8" class="h"/>
<path d="M1464.9 1500.1 L1464.9 1577.3 M1465.3 1501.1 L1465.3 1576.3" class="h"/>
<path d="M1106.8 1372.7 A181 108.8 0 1 0 1468.8 1372.7 A181 108.8 0 1 0 1106.8 1372.7 Z M1109 1371.7 A178.8 95 0 1 0 1466.6 1371.7 A178.8 95 0 1 0 1109 1371.7 Z" fill-rule="evenodd" class="wf"/>
<ellipse cx="1287.8" cy="1372.7" rx="181" ry="108.8"/>
<path d="M1464.3 1393 A180.4 108.4 0 0 1 1111.3 1393" class="n"/>
<ellipse cx="1287.8" cy="1371.7" rx="178.8" ry="95" class="n"/>
<rect x="1177.5" y="1453.2" width="8" height="2.8" rx="1.4" class="h" transform="rotate(20 1181.5 1454.6)"/>
<rect x="1307.6" y="1471.6" width="8" height="2.8" rx="1.4" class="h" transform="rotate(-4 1311.6 1473)"/>
<rect x="1427" y="1431.1" width="8" height="2.8" rx="1.4" class="h" transform="rotate(-33 1431 1432.5)"/>
<rect x="1249" y="1268.1" width="8" height="2.8" rx="1.4" class="h" transform="rotate(3 1253 1269.5)"/>
<rect x="1386.5" y="1289.5" width="8" height="2.8" rx="1.4" class="h" transform="rotate(-22 1390.5 1290.9)"/>
<rect x="1140.4" y="1311.6" width="8" height="2.8" rx="1.4" class="h" transform="rotate(38 1144.4 1313)"/>
<rect x="1198.9" y="1676.3" width="8" height="2.8" rx="1.4" class="h" transform="rotate(14 1202.9 1677.7)"/>
<rect x="1308.9" y="1684.9" width="8" height="2.8" rx="1.4" class="h" transform="rotate(-4 1312.9 1686.3)"/>
<rect x="1412.1" y="1657.1" width="8" height="2.8" rx="1.4" class="h" transform="rotate(-27 1416.1 1658.5)"/>
<!-- 179 -->
<g transform="translate(1180 990) scale(0.13732)">
<ellipse cx="765" cy="1550" rx="654" ry="380" class="w"/>
<ellipse cx="765" cy="1548" rx="640" ry="368" class="n"/>
<path d="M296 1500 C300 1400 400 1290 560 1245" class="n"/>
<path d="M430 1680 C600 1790 1000 1800 1210 1560" class="n"/>
<path d="M935 1290 C960 1360 1000 1410 1060 1440 C1120 1510 1250 1570 1388 1612 L1395 1500 C1390 1430 1360 1390 1330 1360 C1260 1385 1200 1385 1160 1365 C1080 1310 1020 1220 990 1140 C975 1080 965 1030 945 1005 L925 1000 L930 1290 Z" class="w"/>
<path d="M962 1010 C985 1050 990 1100 1010 1150 C1050 1240 1100 1320 1180 1355 C1230 1370 1290 1365 1322 1352" class="n"/>
<path d="M1065 1300 L1065 1440 M1380 1500 L1376 1604" class="n"/>
<path d="M1330 1360 L1300 1368" class="n"/>
<path d="M650 1340 C640 1400 600 1470 600 1470 M935 1290 C960 1360 1000 1410 1030 1420"/>
<path d="M640 1345 Q780 1400 940 1300" class="n"/>
<path d="M630 1372 Q790 1440 955 1332" class="n"/>
<path d="M590 960 L930 975 L932 1290 Q790 1390 650 1340 L655 1045 L592 1180 Z" class="wf"/>
<path d="M930 975 L932 1290 M590 965 L592 1180"/>
<path d="M652 1050 Q648 1030 632 1040 C608 1090 602 1180 590 1260 C577 1360 540 1440 470 1492 C420 1515 380 1500 350 1520 C320 1545 305 1580 302 1620 L300 1772 L330 1765 C440 1690 560 1560 600 1470 C640 1400 652 1330 650 1250 Z" class="w"/>
<path d="M640 1055 C622 1110 617 1190 605 1265 C592 1365 552 1450 480 1502 C430 1525 390 1512 360 1530 C332 1552 318 1585 316 1625 L316 1768" class="n"/>
<path d="M570 870 L563 885 Q560 905 575 930 Q765 1050 950 935 Q968 905 962 885 L956 850 Z" class="wf"/>
<path d="M570 870 L563 885 Q560 905 575 930 Q765 1050 950 935 Q968 905 962 885 L956 860"/>
<path d="M580 940 Q765 1062 945 945" class="n"/>
<path d="M568 185 L570 880 Q765 990 956 880 L962 185 Z" class="wf"/>
<path d="M568 185 L570 880 M962 185 L957 880"/>
<path d="M585 530 Q765 640 957 540 M600 590 Q765 700 957 600 M650 655 Q800 710 957 655" class="n"/>
<path d="M572 470 Q765 560 960 460" class="n"/>
<ellipse cx="632" cy="515" rx="22" ry="14" class="n"/>
<ellipse cx="632" cy="515" rx="10" ry="7" class="k"/>
<ellipse cx="900" cy="515" rx="22" ry="14" class="n"/>
<ellipse cx="900" cy="515" rx="10" ry="7" class="k"/>
<path d="M572 330 C480 380 420 450 432 530 C445 620 530 700 650 760 C760 810 900 840 1010 830 C1080 815 1110 770 1098 725 C1085 690 1040 650 960 640 L958 740 C900 748 840 745 760 715 C640 660 585 560 575 440 Z" class="w"/>
<path d="M958 740 C1020 735 1070 725 1098 712" class="n"/>
<path d="M960 250 C1040 260 1100 300 1100 345 C1095 400 1040 440 960 448 C860 452 760 430 715 385 Q690 355 685 335 C760 360 880 355 960 322 Z" class="w"/>
<ellipse cx="765" cy="185" rx="200" ry="120" class="w"/>
<ellipse cx="765" cy="190" rx="186" ry="108" class="n"/>
<path d="M628 100 L628 212 M638 97 L638 215 M805 70 L805 185 M815 70 L815 185 L805 185" class="n"/>
<path d="M655 158 L690 146 M835 146 L868 158" class="n"/>
</g>
<!-- 182 -->
<path d="M1265.3 848 L1265.8 855 Q1284.5 866 1303.3 855 L1303.8 848" class="w"/>
<path d="M1270 857.3 Q1284.5 862.5 1299 857.3" class="n"/>
<path d="M1280 851 L1280 860.2"/>
<path d="M1297.5 850 L1297.5 858.2"/>
<path d="M1271.5 850 L1272.5 856.5" class="n"/>
<path d="M1257.3 821 L1257.3 839 Q1259 846 1265.3 848.5 Q1284.5 857 1303.8 848.5 Q1310.5 846 1312.1 839 L1312.1 821 L1310.9 820.3 A26.4 22.7 0 0 0 1258.1 820.3 Z" class="w"/>
<path d="M1311.7 819.4 A27.3 13 0 1 1 1257.3 819.4"/>
<path d="M1310 819.3 A25.5 12 0 0 1 1259 819.3" class="n"/>
<path d="M1257.6 831 Q1266 838 1276 840 M1281.5 840.5 Q1293 840.5 1301 836.5 M1307 834 Q1310.5 832 1312 829.5" class="n"/>
<path d="M1257.6 834 Q1266 841 1275 843 M1281.5 843.5 Q1293 843.5 1301 839.5" class="n"/>
<rect x="1274.9" y="836.4" width="6" height="12" rx="3" class="w"/>
<rect x="1301.3" y="832.4" width="5.6" height="12" rx="2.8" class="w"/>
<path d="M1275.5 843 Q1278 845 1280.3 843 M1301.8 839 Q1304 841 1306.4 839" class="n"/>
<path d="M1258.6 824 L1258.6 838" class="n"/>
<ellipse cx="1284.5" cy="809.2" rx="17.1" ry="11.1"/>
<ellipse cx="1284.5" cy="809.4" rx="15.2" ry="9.6" class="d"/>
<ellipse cx="1284.5" cy="810.2" rx="11.3" ry="7" class="n"/>
<ellipse cx="1284.5" cy="810.8" rx="9.3" ry="5.6"/>
<ellipse cx="1284.5" cy="811.4" rx="6.6" ry="3.8" class="d"/>
<ellipse cx="1284.5" cy="811.8" rx="3.2" ry="1.8" class="k"/>
<path d="M1278 802 L1289 801 M1292.5 801.5 L1297 803.5" class="d"/>
<!-- 227 -->
<path d="M1261.3 926.5 L1261.3 931 A23.2 12.1 0 0 0 1307.7 931 L1307.7 926.5" class="w"/>
<ellipse cx="1284.5" cy="926.5" rx="23.2" ry="12.1" class="w"/>
<path d="M1306.2 929.5 A22 11.2 0 0 1 1262.8 929.5" class="n"/>
<path d="M1282.3 941.8 l0 1.8 M1284.5 942 l0 1.8 M1286.5 941.8 l0 1.8" class="n"/>
<path d="M1264.3 888 L1276.6 928.5 Q1284.5 941 1292.4 928.5 L1304.7 888" class="w"/>
<ellipse cx="1284.5" cy="885.7" rx="20.4" ry="11.8" class="w"/>
<!-- 233 -->
<path d="M1260 960.3 L1260 983.4 A24.2 13.1 0 0 0 1308.4 983.4 L1308.4 960.3" class="w"/>
<path d="M1306.9 984.8 A23.2 12.4 0 0 1 1261.5 984.8" class="n"/>
<ellipse cx="1284.2" cy="960.3" rx="24.3" ry="13.1" class="w"/>
<ellipse cx="1284.2" cy="960.5" rx="23" ry="12" class="n"/>
<ellipse cx="1284.2" cy="972.6" rx="13" ry="3.4" class="n"/>
<ellipse cx="1284.2" cy="972.2" rx="9.5" ry="2.8" class="d"/>
<ellipse cx="1284.2" cy="971.6" rx="4.2" ry="1.7" class="w"/>
<circle cx="1284.2" cy="977.3" r="0.9" class="k"/>
<path d="M1260 962.5 q-1.6 1 0 2.6 M1308.4 962.5 q1.6 1 0 2.6"/>
</g>
<!-- LEADERS -->
<g class="l">
<line x1="1574.3" y1="297.9" x2="1479.4" y2="345.6"/>
<line x1="1580.2" y1="429.5" x2="1486.1" y2="476.8"/>
<line x1="1575.9" y1="602.6" x2="1480.7" y2="648.1"/>
<line x1="1364.9" y1="809.6" x2="1318.1" y2="831.8"/>
<line x1="1355.1" y1="888.1" x2="1304.7" y2="911.8"/>
<line x1="1212.3" y1="952.7" x2="1256.5" y2="975.5"/>
<line x1="1423.8" y1="1033.2" x2="1329.9" y2="1078.6"/>
<line x1="1152.2" y1="1219" x2="1278.1" y2="1293.9"/>
<line x1="1494.2" y1="1290.9" x2="1330.8" y2="1362.1"/>
<line x1="1521.9" y1="1434.2" x2="1473.7" y2="1457.2"/>
<line x1="1033.5" y1="1484.5" x2="1068.5" y2="1465.7"/>
<line x1="1519.8" y1="1776" x2="1471.6" y2="1799.4"/>
<line x1="1034.4" y1="1926.1" x2="1070.6" y2="1904.8"/>
<line x1="1179.4" y1="1971.3" x2="1254" y2="1999.9"/>
<line x1="1396.9" y1="2004.2" x2="1325.3" y2="2041.7"/>
<line x1="1413.1" y1="2103.1" x2="1342.3" y2="2141.9"/>
<line x1="1478.8" y1="2162" x2="1409.7" y2="2199"/>
<line x1="1083.6" y1="2240.9" x2="1155" y2="2270"/>
<line x1="1559.2" y1="2339" x2="1316.3" y2="2442.5"/>
<line x1="1575.2" y1="2552.8" x2="1504.8" y2="2591.6"/>
<line x1="1089.5" y1="2881.8" x2="1159.9" y2="2909.4"/>
<line x1="1083.6" y1="2926.4" x2="1157.5" y2="2957"/>
<line x1="1087" y1="2971.6" x2="1160.9" y2="3002.2"/>
<line x1="1397" y1="2915.8" x2="1333.8" y2="2941.5"/>
<line x1="714.8" y1="1677.9" x2="682.1" y2="1695"/>
<line x1="571" y1="1876.4" x2="645.2" y2="1908.6"/>
<line x1="2017.6" y1="1683.8" x2="1983.6" y2="1701.4"/>
<line x1="2043.1" y1="1901" x2="1971.7" y2="1940.2"/>
<line x1="716" y1="2351.4" x2="677.9" y2="2372.4"/>
<line x1="572.1" y1="2537.9" x2="646.7" y2="2570.5"/>
<line x1="2004.3" y1="2349" x2="1968.1" y2="2367.6"/>
<line x1="2058.6" y1="2587.1" x2="1962.9" y2="2634.8"/>
</g>
<!-- LABELS -->
<g>
<text class="t" x="1580.3" y="294.4">221</text>
<text class="t" x="1589.9" y="424.6">224</text>
<text class="t" x="1578.5" y="601">206</text>
<text class="t" x="1364.1" y="808.1">182</text>
<text class="t" x="1353.9" y="887.2">227</text>
<text class="t" x="1143.6" y="953.9">233</text>
<text class="t" x="1424.3" y="1032.7">179</text>
<text class="t" x="1079.9" y="1217.5">492</text>
<text class="t" x="1492.9" y="1292.6">176</text>
<text class="t" x="1527.3" y="1432.5">209</text>
<text class="t" x="956.3" y="1510.1">480</text>
<text class="t" x="1525.6" y="1773.8">210</text>
<text class="t" x="959.7" y="1954.3">487</text>
<text class="t" x="1109.3" y="1977.3">218</text>
<text class="t" x="1397.2" y="1999.9">254</text>
<text class="t" x="1418.5" y="2101">251</text>
<text class="t" x="1479.3" y="2160.7">456</text>
<text class="t" x="1013.9" y="2241.9">212</text>
<text class="t" x="1570.1" y="2337.1">203</text>
<text class="t" x="1580.7" y="2550.3">173</text>
<text class="t" x="1022.6" y="2880.3">245</text>
<text class="t" x="1013.9" y="2926.4">242</text>
<text class="t" x="1016.3" y="2973.1">248</text>
<text class="t" x="1397.7" y="2913.3">200</text>
<text class="t" x="708.8" y="1677.1">197</text>
<text class="t" x="499.3" y="1878.3">188</text>
<text class="t" x="2011.4" y="1683.8">197</text>
<text class="t" x="2045.9" y="1898.1">188</text>
<text class="t" x="711.2" y="2351">197</text>
<text class="t" x="501.2" y="2539.5">185</text>
<text class="t" x="1998.8" y="2344.8">197</text>
<text class="t" x="2060.7" y="2584.3">185</text>
</g>
</svg>
</body></html>
